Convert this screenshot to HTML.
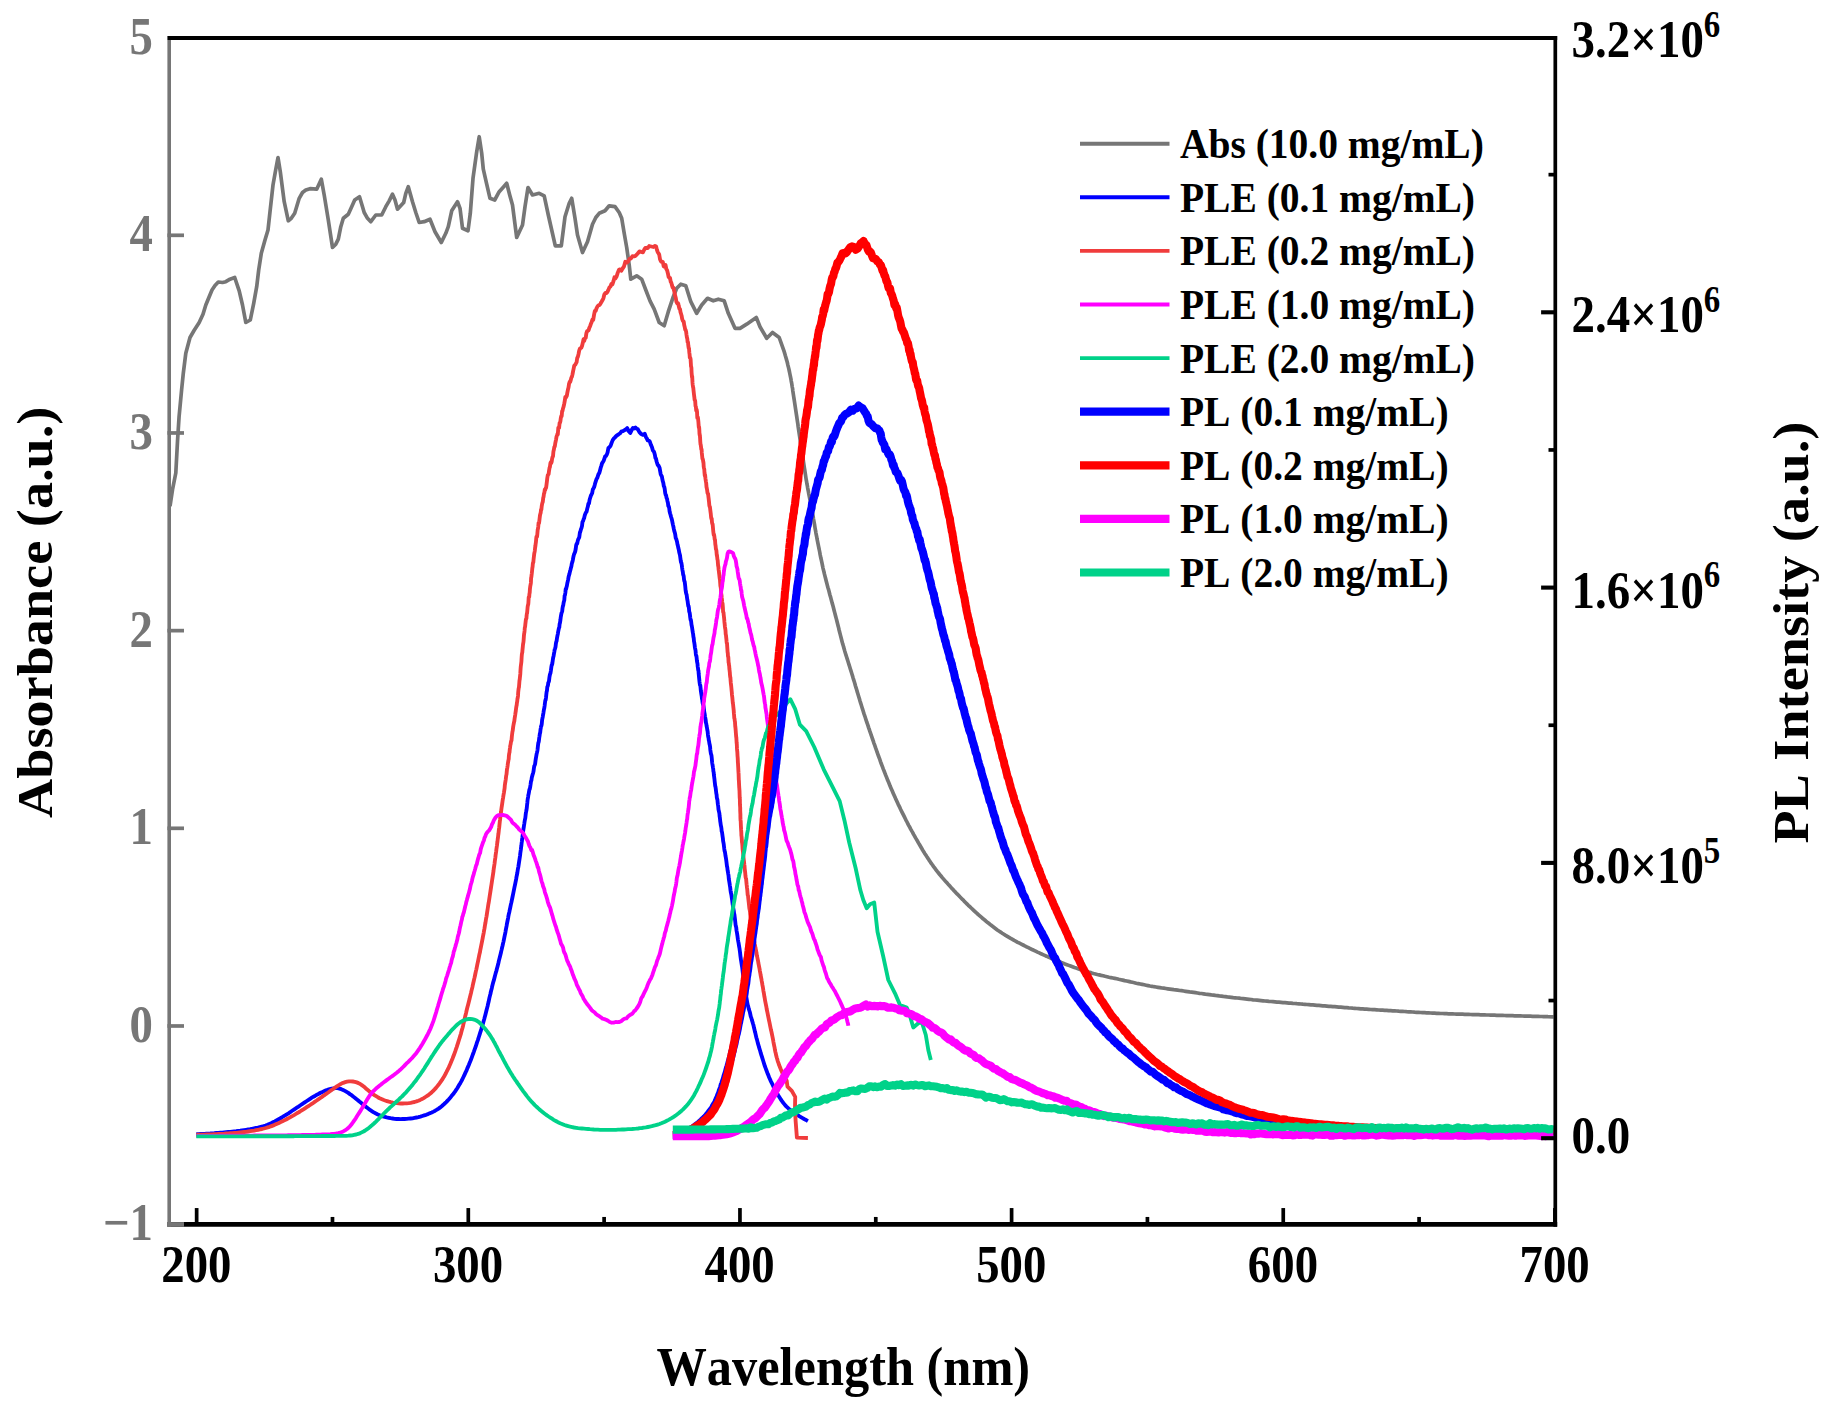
<!DOCTYPE html>
<html lang="en"><head><meta charset="utf-8"><title>Absorbance and PL spectra</title>
<style>html,body{margin:0;padding:0;background:#fff}svg{display:block}text{font-family:"Liberation Serif",serif;font-weight:bold;font-kerning:none}</style></head><body>
<svg width="1836" height="1413" viewBox="0 0 1836 1413">
<rect width="1836" height="1413" fill="#fff"/>
<g fill="none" stroke-linejoin="round" stroke-linecap="butt">
<polyline points="170.0,506.2 172.5,489.6 175.8,473.0 177.5,441.4 179.1,416.4 181.6,389.8 183.3,373.2 185.8,353.2 190.0,337.5 194.2,330.3 199.2,322.5 203.0,314.2 205.8,305.0 209.2,296.7 212.0,290.0 215.0,285.5 218.3,282.0 222.5,282.5 225.8,281.7 230.0,279.2 234.7,277.5 239.2,290.8 242.5,305.0 245.8,322.5 250.3,320.0 253.7,303.3 256.7,286.7 258.7,270.0 261.3,253.3 265.0,240.0 268.0,230.0 270.0,211.7 273.0,185.0 275.8,169.2 278.0,157.5 280.3,171.7 284.2,201.7 288.3,220.8 291.3,218.3 294.7,213.3 299.2,198.3 302.5,192.5 305.8,190.0 310.0,188.7 316.7,189.2 321.3,179.2 324.2,195.0 328.3,220.0 332.5,247.5 335.8,244.2 338.3,239.2 340.8,226.7 343.3,218.3 348.3,214.2 351.7,206.7 354.7,200.0 359.5,196.7 362.5,206.7 364.2,212.5 367.5,218.3 370.8,221.7 375.8,215.0 381.7,215.0 385.8,206.7 389.2,200.8 392.5,194.2 395.0,200.0 397.5,209.2 403.7,202.5 405.8,193.3 408.3,186.7 412.5,201.7 415.8,212.5 419.2,222.5 424.2,221.7 430.0,219.2 435.0,231.7 441.3,242.5 445.8,233.3 448.3,226.7 451.7,210.8 457.5,201.7 460.0,208.3 462.5,228.3 468.0,230.8 470.3,213.3 473.0,178.3 476.7,151.7 479.2,136.7 481.7,153.3 483.3,169.2 486.7,184.2 490.0,198.3 494.7,200.0 499.2,191.7 503.7,186.7 506.7,183.3 509.7,195.0 512.5,205.0 516.7,237.5 522.5,225.0 525.0,206.7 528.0,187.5 532.5,195.0 539.2,193.3 544.2,195.8 548.3,215.0 551.7,230.0 555.3,245.8 561.3,245.8 565.0,216.7 569.2,203.3 571.7,198.3 575.0,218.3 577.5,235.0 582.5,252.5 587.5,241.7 592.5,224.2 595.8,217.5 599.2,213.3 605.0,210.8 609.2,205.8 615.0,206.7 619.2,212.5 621.7,218.3 624.2,233.3 626.7,247.5 629.2,265.0 630.8,279.2 636.7,275.8 641.7,279.2 645.8,290.0 650.0,300.8 654.2,309.2 659.2,322.5 664.2,325.8 668.3,311.7 673.3,296.7 676.7,288.3 680.8,284.2 685.8,285.8 690.8,301.7 696.7,313.3 701.7,305.0 707.5,298.3 713.3,300.8 718.3,299.2 724.2,300.8 728.3,313.3 735.0,328.3 740.0,328.3 746.7,324.2 756.3,317.5 760.0,326.7 766.7,338.3 772.5,332.5 779.2,337.5 784.2,351.7 784.8,353.6 785.3,355.5 785.9,357.5 786.4,359.4 787.0,361.3 787.5,363.3 787.9,365.2 788.4,367.1 788.9,369.1 789.3,371.0 789.7,373.0 790.1,375.0 790.5,376.9 790.9,378.9 791.2,380.8 791.6,382.8 791.9,384.8 792.2,386.8 792.6,388.7 792.8,390.7 793.1,392.7 793.4,394.7 793.7,396.7 794.0,398.6 794.3,400.6 794.6,402.6 794.9,404.6 795.2,406.5 795.5,408.5 795.8,410.5 796.1,412.5 796.4,414.5 796.7,416.4 797.0,418.4 797.3,420.4 797.6,422.4 797.9,424.3 798.1,426.3 798.4,428.3 798.7,430.3 799.0,432.3 799.3,434.2 799.6,436.2 799.9,438.2 800.2,440.2 800.5,442.1 800.8,444.1 801.1,446.1 801.4,448.1 801.7,450.1 802.0,452.0 802.3,454.0 802.6,456.0 802.9,458.0 803.2,459.9 803.5,461.9 803.8,463.9 804.1,465.9 804.4,467.9 804.7,469.8 805.0,471.8 805.3,473.8 805.6,475.8 805.9,477.7 806.2,479.7 806.6,481.7 806.9,483.7 807.3,485.6 807.6,487.6 808.0,489.6 808.4,491.5 808.7,493.5 809.1,495.5 809.5,497.4 809.9,499.4 810.3,501.3 810.6,503.3 811.0,505.3 811.4,507.2 811.8,509.2 812.1,511.2 812.5,513.1 812.9,515.1 813.2,517.1 813.5,519.0 813.9,521.0 814.2,523.0 814.6,524.9 814.9,526.9 815.2,528.9 815.6,530.9 815.9,532.8 816.3,534.8 816.7,536.8 817.0,538.7 817.4,540.7 817.8,542.6 818.2,544.6 818.6,546.6 819.0,548.5 819.4,550.5 819.8,552.5 820.1,554.4 820.5,556.4 820.9,558.3 821.4,560.3 821.8,562.2 822.2,564.2 822.6,566.2 823.0,568.1 823.5,570.1 824.0,572.0 824.4,573.9 824.9,575.9 825.4,577.8 825.9,579.8 826.4,581.7 826.9,583.6 827.4,585.6 827.9,587.5 828.5,589.4 829.0,591.3 829.5,593.3 830.0,595.2 830.6,597.1 831.1,599.1 831.6,601.0 832.1,602.9 832.7,604.9 833.2,606.8 833.7,608.7 834.2,610.7 834.7,612.6 835.2,614.5 835.7,616.5 836.2,618.4 836.7,620.3 837.2,622.3 837.7,624.2 838.2,626.2 838.7,628.1 839.1,630.0 839.6,632.0 840.1,633.9 840.6,635.9 841.1,637.8 841.6,639.7 842.1,641.7 842.6,643.6 843.2,645.5 843.7,647.4 844.3,649.4 844.8,651.3 845.4,653.2 846.0,655.1 846.6,657.0 847.2,658.9 847.8,660.8 848.4,662.7 849.0,664.6 849.6,666.5 850.2,668.5 850.8,670.4 851.4,672.3 852.0,674.2 852.6,676.1 853.1,678.0 853.7,679.9 854.3,681.8 854.9,683.8 855.4,685.7 856.0,687.6 856.6,689.5 857.1,691.4 857.7,693.3 858.3,695.3 858.9,697.2 859.5,699.1 860.0,701.0 860.6,702.9 861.2,704.8 861.8,706.7 862.4,708.6 863.0,710.5 863.6,712.5 864.2,714.4 864.9,716.3 865.5,718.2 866.1,720.1 866.7,722.0 867.4,723.9 868.0,725.7 868.6,727.6 869.3,729.5 869.9,731.4 870.6,733.3 871.2,735.2 871.9,737.1 872.5,739.0 873.2,740.9 873.8,742.8 874.5,744.7 875.2,746.6 875.8,748.4 876.5,750.3 877.1,752.2 877.8,754.1 878.5,756.0 879.2,757.9 879.9,759.7 880.5,761.6 881.2,763.5 881.9,765.4 882.6,767.2 883.3,769.1 884.1,771.0 884.8,772.8 885.5,774.7 886.3,776.6 887.0,778.4 887.7,780.3 888.5,782.1 889.3,784.0 890.0,785.8 890.8,787.7 891.6,789.5 892.4,791.3 893.2,793.2 894.0,795.0 894.8,796.8 895.6,798.6 896.5,800.5 897.3,802.3 898.1,804.1 899.0,805.9 899.9,807.7 900.7,809.5 901.6,811.3 902.5,813.1 903.4,814.9 904.3,816.7 905.2,818.5 906.1,820.3 907.0,822.0 907.9,823.8 908.8,825.6 909.8,827.3 910.7,829.1 911.7,830.9 912.7,832.6 913.6,834.4 914.6,836.1 915.6,837.9 916.6,839.6 917.6,841.3 918.6,843.1 919.6,844.8 920.6,846.5 921.6,848.2 922.6,850.0 923.7,851.7 924.7,853.4 925.8,855.1 926.9,856.8 928.0,858.4 929.1,860.1 930.2,861.7 931.3,863.4 932.5,865.0 933.6,866.6 934.8,868.2 936.0,869.8 937.2,871.4 938.5,873.0 939.7,874.5 941.0,876.0 942.3,877.6 943.6,879.1 944.9,880.6 946.2,882.1 947.6,883.6 948.9,885.1 950.3,886.6 951.6,888.1 953.0,889.5 954.3,891.0 955.7,892.4 957.1,893.9 958.5,895.3 959.9,896.8 961.3,898.2 962.7,899.6 964.1,901.1 965.5,902.5 966.9,903.9 968.3,905.3 969.8,906.7 971.2,908.0 972.7,909.4 974.2,910.8 975.6,912.1 977.1,913.5 978.6,914.8 980.1,916.1 981.6,917.4 983.1,918.8 984.7,920.0 986.2,921.3 987.7,922.6 989.3,923.8 990.9,925.1 992.5,926.3 994.1,927.5 995.7,928.7 997.3,929.9 998.9,931.0 1000.6,932.1 1002.2,933.2 1003.9,934.3 1005.6,935.4 1007.3,936.4 1009.0,937.4 1010.7,938.4 1012.5,939.4 1014.2,940.4 1016.0,941.3 1017.7,942.3 1019.5,943.2 1021.3,944.1 1023.1,945.0 1024.8,945.9 1026.6,946.8 1028.4,947.7 1030.2,948.6 1032.0,949.5 1033.8,950.3 1035.6,951.2 1037.5,952.1 1039.3,952.9 1041.1,953.8 1042.9,954.6 1044.7,955.4 1046.5,956.2 1048.4,957.1 1050.2,957.9 1052.0,958.7 1053.9,959.4 1055.7,960.2 1057.6,961.0 1059.4,961.7 1061.3,962.5 1063.1,963.2 1065.0,964.0 1066.9,964.7 1068.7,965.4 1070.6,966.1 1072.5,966.8 1074.4,967.5 1076.3,968.1 1078.1,968.8 1080.0,969.4 1081.9,970.1 1083.8,970.7 1085.7,971.3 1087.7,971.8 1089.6,972.4 1091.5,972.9 1093.4,973.5 1095.4,974.0 1097.3,974.5 1099.2,974.9 1101.2,975.4 1103.1,975.8 1105.1,976.3 1107.0,976.7 1109.0,977.2 1110.9,977.6 1112.9,978.0 1114.8,978.4 1116.8,978.8 1118.8,979.3 1120.7,979.7 1122.7,980.1 1124.6,980.6 1126.6,981.0 1128.5,981.4 1130.5,981.9 1132.4,982.3 1134.4,982.7 1136.3,983.2 1138.3,983.6 1140.3,984.0 1142.2,984.4 1144.2,984.8 1146.1,985.2 1148.1,985.6 1150.0,986.0 1152.0,986.3 1154.0,986.7 1156.0,987.0 1157.9,987.3 1159.9,987.6 1161.9,988.0 1163.8,988.2 1165.8,988.5 1167.8,988.8 1169.8,989.1 1171.8,989.4 1173.8,989.7 1175.7,989.9 1177.7,990.2 1179.7,990.5 1181.7,990.7 1183.7,991.0 1185.6,991.3 1187.6,991.6 1189.6,991.9 1191.6,992.1 1193.6,992.4 1195.5,992.7 1197.5,993.0 1199.5,993.3 1201.5,993.5 1203.5,993.8 1205.4,994.1 1207.4,994.3 1209.4,994.6 1211.4,994.9 1213.4,995.1 1215.4,995.4 1217.3,995.6 1219.3,995.9 1221.3,996.1 1223.3,996.4 1225.3,996.6 1227.3,996.9 1229.3,997.1 1231.2,997.3 1233.2,997.6 1235.2,997.8 1237.2,998.0 1239.2,998.2 1241.2,998.5 1243.2,998.7 1245.2,998.9 1247.1,999.1 1249.1,999.3 1251.1,999.5 1253.1,999.8 1255.1,1000.0 1257.1,1000.2 1259.1,1000.4 1261.1,1000.6 1263.1,1000.8 1265.0,1001.0 1267.0,1001.2 1269.0,1001.4 1271.0,1001.5 1273.0,1001.7 1275.0,1001.9 1277.0,1002.1 1279.0,1002.2 1281.0,1002.4 1283.0,1002.6 1285.0,1002.7 1287.0,1002.9 1289.0,1003.1 1290.9,1003.2 1292.9,1003.4 1294.9,1003.5 1296.9,1003.7 1298.9,1003.8 1300.9,1004.0 1302.9,1004.2 1304.9,1004.3 1306.9,1004.5 1308.9,1004.6 1310.9,1004.8 1312.9,1004.9 1314.9,1005.1 1316.9,1005.3 1318.9,1005.4 1320.9,1005.6 1322.8,1005.8 1324.8,1005.9 1326.8,1006.1 1328.8,1006.3 1330.8,1006.4 1332.8,1006.6 1334.8,1006.7 1336.8,1006.9 1338.8,1007.1 1340.8,1007.2 1342.8,1007.4 1344.8,1007.6 1346.8,1007.7 1348.8,1007.9 1350.8,1008.0 1352.7,1008.2 1354.7,1008.3 1356.7,1008.5 1358.7,1008.6 1360.7,1008.8 1362.7,1008.9 1364.7,1009.1 1366.7,1009.2 1368.7,1009.3 1370.7,1009.5 1372.7,1009.6 1374.7,1009.7 1376.7,1009.8 1378.7,1010.0 1380.7,1010.1 1382.7,1010.2 1384.7,1010.3 1386.7,1010.4 1388.7,1010.6 1390.7,1010.7 1392.7,1010.8 1394.7,1010.9 1396.7,1011.0 1398.7,1011.2 1400.6,1011.3 1402.6,1011.4 1404.6,1011.5 1406.6,1011.7 1408.6,1011.8 1410.6,1011.9 1412.6,1012.0 1414.6,1012.2 1416.6,1012.3 1418.6,1012.4 1420.6,1012.5 1422.6,1012.6 1424.6,1012.7 1426.6,1012.8 1428.6,1012.9 1430.6,1013.0 1432.6,1013.1 1434.6,1013.2 1436.6,1013.3 1438.6,1013.4 1440.6,1013.5 1442.6,1013.5 1444.6,1013.6 1446.6,1013.7 1448.6,1013.8 1450.6,1013.8 1452.6,1013.9 1454.6,1014.0 1456.6,1014.1 1458.6,1014.1 1460.6,1014.2 1462.6,1014.2 1464.6,1014.3 1466.6,1014.4 1468.6,1014.4 1470.6,1014.5 1472.6,1014.6 1474.6,1014.6 1476.6,1014.7 1478.6,1014.7 1480.6,1014.8 1482.6,1014.8 1484.6,1014.9 1486.6,1015.0 1488.6,1015.0 1490.6,1015.1 1492.6,1015.1 1494.6,1015.2 1496.6,1015.3 1498.6,1015.3 1500.6,1015.4 1502.6,1015.4 1504.6,1015.5 1506.6,1015.6 1508.6,1015.6 1510.6,1015.7 1512.6,1015.7 1514.6,1015.8 1516.5,1015.8 1518.5,1015.9 1520.5,1015.9 1522.5,1016.0 1524.5,1016.1 1526.5,1016.1 1528.5,1016.2 1530.5,1016.2 1532.5,1016.3 1534.4,1016.3 1536.4,1016.4 1538.2,1016.4 1540.1,1016.5 1541.9,1016.5 1543.5,1016.6 1545.1,1016.6 1546.6,1016.6 1547.9,1016.7 1552.5,1016.8 1553.5,1016.8" stroke="#767676" stroke-width="3.7"/>
<polyline points="196.3,1134.2 198.3,1134.1 200.6,1134.0 202.4,1133.9 204.3,1133.8 206.3,1133.7 208.3,1133.6 210.3,1133.5 212.3,1133.3 214.3,1133.2 216.3,1133.0 218.3,1132.9 220.3,1132.7 222.3,1132.6 224.2,1132.4 226.2,1132.2 228.2,1132.0 230.2,1131.8 232.2,1131.6 234.2,1131.4 236.2,1131.2 238.2,1130.9 240.2,1130.7 242.1,1130.4 244.1,1130.1 246.1,1129.8 248.1,1129.5 250.1,1129.2 252.0,1128.8 254.0,1128.4 256.0,1128.0 257.9,1127.6 259.9,1127.1 261.8,1126.6 263.7,1126.1 265.6,1125.5 267.4,1124.8 269.3,1124.0 271.1,1123.2 272.9,1122.3 274.7,1121.4 276.4,1120.5 278.2,1119.5 280.0,1118.5 281.7,1117.5 283.4,1116.4 285.1,1115.4 286.8,1114.3 288.5,1113.3 290.2,1112.2 291.8,1111.0 293.5,1109.9 295.1,1108.8 296.8,1107.7 298.5,1106.6 300.1,1105.5 301.8,1104.3 303.5,1103.2 305.1,1102.1 306.8,1101.0 308.5,1099.9 310.1,1098.8 311.8,1097.7 313.5,1096.7 315.3,1095.7 317.0,1094.7 318.8,1093.8 320.6,1092.8 322.4,1092.0 324.2,1091.1 326.0,1090.4 327.9,1089.7 329.8,1089.1 331.7,1088.6 333.7,1088.3 335.6,1088.1 337.5,1088.2 339.4,1088.6 341.3,1089.2 343.1,1090.0 344.9,1090.9 346.6,1091.9 348.3,1092.9 349.9,1094.1 351.6,1095.2 353.2,1096.5 354.8,1097.7 356.3,1098.9 357.9,1100.2 359.4,1101.5 361.0,1102.8 362.5,1104.1 364.1,1105.3 365.6,1106.6 367.2,1107.8 368.8,1109.0 370.4,1110.2 372.1,1111.3 373.8,1112.4 375.5,1113.3 377.3,1114.2 379.1,1115.0 381.0,1115.7 382.9,1116.4 384.8,1116.9 386.7,1117.4 388.7,1117.8 390.6,1118.2 392.6,1118.5 394.6,1118.8 396.6,1119.0 398.6,1119.0 400.6,1119.1 402.6,1119.0 404.6,1119.0 406.6,1118.9 408.6,1118.7 410.6,1118.5 412.5,1118.3 414.5,1117.9 416.5,1117.5 418.4,1117.1 420.4,1116.6 422.3,1116.0 424.2,1115.4 426.1,1114.8 428.0,1114.1 429.8,1113.3 431.7,1112.5 433.5,1111.6 435.2,1110.7 436.9,1109.7 438.6,1108.6 440.2,1107.4 441.7,1106.2 443.3,1104.8 444.7,1103.5 446.2,1102.1 447.6,1100.6 448.9,1099.2 450.2,1097.7 451.5,1096.1 452.8,1094.6 454.0,1093.0 455.2,1091.3 456.3,1089.7 457.4,1088.0 458.4,1086.3 459.4,1084.6 460.4,1082.9 461.4,1081.1 462.3,1079.3 463.2,1077.5 464.1,1075.7 464.9,1073.9 465.7,1072.1 466.6,1070.3 467.3,1068.4 468.1,1066.6 468.9,1064.7 469.6,1062.9 470.4,1061.0 471.1,1059.2 471.8,1057.3 472.5,1055.4 473.2,1053.5 473.9,1051.6 474.5,1049.8 475.2,1047.9 475.9,1046.0 476.5,1044.1 477.1,1042.2 477.8,1040.3 478.4,1038.4 479.0,1036.5 479.6,1034.6 480.2,1032.7 480.8,1030.8 481.4,1028.8 481.9,1026.9 482.5,1025.0 483.1,1023.1 483.6,1021.2 484.2,1019.2 484.7,1017.3 485.2,1015.4 485.7,1013.5 486.2,1011.5 486.7,1009.6 487.2,1007.6 487.7,1005.7 488.1,1003.7 488.6,1001.8 489.0,999.8 489.4,997.9 489.9,995.9 490.4,994.0 490.8,992.0 491.3,990.1 491.8,988.2 492.2,986.2 492.7,984.3 493.2,982.3 493.8,980.4 494.3,978.5 494.8,976.6 495.3,974.6 495.8,972.7 496.4,970.8 496.9,968.8 497.4,966.9 497.9,965.0 498.4,963.0 498.8,961.1 499.3,959.1 499.8,957.2 500.3,955.2 500.8,953.3 501.2,951.4 501.7,949.4 502.1,947.5 502.6,945.5 503.0,943.6 503.5,941.6 503.9,939.7 504.3,937.7 504.7,935.7 505.1,933.8 505.5,931.8 505.8,929.9 506.2,927.9 506.6,925.9 506.9,924.0 507.3,922.0 507.7,920.0 508.1,918.1 508.4,916.1 508.8,914.1 509.3,912.2 509.7,910.2 510.1,908.3 510.5,906.3 510.9,904.4 511.4,902.4 511.8,900.4 512.2,898.5 512.6,896.5 513.0,894.6 513.4,892.6 513.8,890.7 514.2,888.7 514.6,886.7 515.0,884.8 515.4,882.8 515.8,880.9 516.2,878.9 516.5,876.9 516.9,875.0 517.3,873.0 517.6,871.0 517.9,869.0 518.3,867.1 518.6,865.1 518.9,863.1 519.2,861.1 519.5,859.2 519.8,857.2 520.1,855.2 520.3,853.2 520.6,851.3 520.9,849.3 521.1,847.3 521.4,845.4 521.6,843.3 521.9,841.3 522.1,839.3 522.4,837.2 522.6,835.5 522.9,833.6 523.1,831.4 523.4,829.4 523.7,827.7 524.0,825.5 524.3,823.7 524.6,821.6 524.9,819.7 525.3,818.1 525.6,815.4 525.9,812.7 526.2,811.4 526.5,809.9 526.8,807.8 527.0,805.6 527.3,803.0 527.5,800.7 527.8,798.6 528.1,797.1 528.4,794.8 528.7,793.7 529.0,791.9 529.4,789.5 529.8,789.0 530.2,786.8 530.6,784.3 531.0,781.3 531.4,780.4 531.8,777.5 532.2,776.1 532.6,774.6 533.1,773.0 533.5,771.4 533.9,768.3 534.3,765.9 534.7,765.2 535.1,764.0 535.5,760.8 535.9,758.1 536.2,756.5 536.6,754.1 536.9,752.9 537.3,751.1 537.6,749.2 537.9,746.2 538.3,743.0 538.6,742.2 538.9,740.9 539.2,738.0 539.5,736.2 539.8,733.9 540.2,732.5 540.5,729.6 540.8,728.0 541.1,725.9 541.4,725.9 541.8,723.6 542.1,720.2 542.4,718.5 542.7,717.1 543.0,715.2 543.4,713.1 543.7,711.0 544.0,709.2 544.3,708.1 544.7,705.2 545.0,702.6 545.3,700.4 545.6,700.1 546.0,697.7 546.3,694.6 546.6,691.9 547.0,690.4 547.3,686.8 547.6,686.4 548.0,684.9 548.3,682.6 548.7,682.1 549.0,681.0 549.4,677.5 549.8,675.2 550.1,674.0 550.5,673.0 550.9,670.5 551.3,667.4 551.7,665.0 552.1,664.5 552.4,663.0 552.8,660.0 553.2,657.4 553.6,655.9 554.0,653.5 554.4,651.3 554.7,649.4 555.1,648.6 555.5,647.1 555.9,643.5 556.3,641.7 556.6,641.1 557.0,638.1 557.4,635.9 557.8,634.1 558.1,632.1 558.5,630.1 558.9,628.1 559.3,627.4 559.6,624.1 560.0,622.8 560.4,620.1 560.7,617.5 561.1,615.1 561.5,613.1 561.8,612.4 562.2,611.4 562.5,608.3 562.9,606.0 563.2,605.6 563.6,602.8 563.9,601.5 564.3,600.2 564.6,595.8 565.0,595.0 565.4,592.5 565.7,589.0 566.1,589.0 566.5,587.2 566.9,585.8 567.3,583.2 567.8,581.1 568.2,579.4 568.6,576.8 569.1,575.0 569.5,573.6 570.0,571.4 570.4,570.0 570.9,567.9 571.4,566.2 571.8,563.6 572.3,562.2 572.8,560.2 573.3,557.3 573.7,555.5 574.2,553.9 574.7,552.9 575.2,551.5 575.7,549.0 576.2,545.1 576.7,543.7 577.2,543.7 577.7,541.0 578.2,539.4 578.7,538.4 579.3,537.1 579.8,533.2 580.3,531.7 580.9,529.4 581.4,528.3 582.0,526.0 582.5,521.8 583.1,521.0 583.6,519.3 584.2,517.9 584.8,515.2 585.4,513.6 586.0,512.4 586.6,511.6 587.2,508.8 587.8,506.8 588.4,503.7 589.0,503.5 589.6,499.8 590.3,497.5 590.9,495.6 591.5,494.6 592.2,493.0 592.8,489.5 593.4,488.5 594.1,487.2 594.7,485.1 595.3,482.8 596.0,480.6 596.6,478.9 597.3,477.9 598.0,475.7 598.6,473.8 599.3,473.1 600.0,470.4 600.7,467.7 601.4,465.6 602.2,462.9 602.9,462.2 603.7,460.7 604.4,458.6 605.2,456.2 606.0,455.9 606.8,454.6 607.6,452.4 608.4,448.0 609.2,447.4 610.0,446.6 610.8,445.2 611.7,442.6 612.7,440.1 613.7,438.7 615.0,437.4 616.6,435.6 618.4,434.5 620.1,433.3 621.5,431.4 622.9,431.2 624.2,430.4 625.7,429.5 627.2,428.0 628.8,431.3 630.3,433.0 631.6,430.1 632.9,427.9 634.1,428.5 635.4,427.5 636.6,428.6 637.9,429.3 639.4,432.1 641.3,434.1 643.1,434.9 644.7,433.7 645.9,436.9 646.8,438.4 647.7,440.4 648.7,440.6 649.8,441.5 650.9,444.8 652.0,447.3 652.9,450.5 653.7,451.3 654.3,452.6 654.9,455.0 655.4,457.9 656.0,458.6 656.6,461.5 657.2,463.3 657.8,465.1 658.4,465.3 659.0,466.7 659.6,467.9 660.2,471.3 660.7,474.2 661.3,475.6 661.8,476.2 662.3,478.8 662.8,481.3 663.3,482.9 663.8,486.1 664.3,487.0 664.7,488.9 665.2,493.1 665.7,494.9 666.1,495.2 666.5,497.8 667.0,498.7 667.4,500.9 667.9,502.8 668.3,505.9 668.8,506.5 669.2,508.1 669.6,511.6 670.1,513.5 670.5,514.7 671.0,516.6 671.5,518.3 671.9,519.6 672.4,522.2 672.9,524.6 673.3,526.2 673.8,528.9 674.3,531.1 674.8,532.6 675.2,534.3 675.7,538.0 676.2,538.9 676.6,540.2 677.1,542.1 677.5,544.5 678.0,546.3 678.4,548.3 678.8,549.8 679.2,552.3 679.6,553.7 680.0,555.2 680.4,558.2 680.7,560.5 681.1,562.5 681.4,562.8 681.8,565.2 682.1,567.7 682.4,569.8 682.8,571.8 683.1,574.4 683.4,575.3 683.7,576.1 684.0,579.4 684.3,580.9 684.7,581.8 685.0,584.2 685.3,586.9 685.6,590.3 685.9,592.2 686.3,593.9 686.6,594.6 686.9,596.7 687.3,599.7 687.6,601.1 687.9,603.5 688.3,606.3 688.6,606.1 688.9,607.8 689.2,611.7 689.6,612.5 689.9,614.4 690.2,617.2 690.6,620.1 690.9,619.9 691.2,622.1 691.5,624.7 691.8,626.0 692.1,627.8 692.5,630.5 692.8,632.4 693.1,634.0 693.4,636.7 693.7,638.0 694.0,641.3 694.3,642.7 694.6,644.8 694.9,647.5 695.2,649.1 695.5,650.2 695.8,653.7 696.1,655.8 696.4,655.8 696.6,657.4 696.9,660.6 697.2,662.5 697.5,663.7 697.7,666.5 698.0,668.3 698.2,670.1 698.5,670.8 698.7,673.8 699.0,676.7 699.2,678.7 699.5,681.7 699.8,684.0 700.0,685.1 700.3,685.4 700.6,688.1 700.8,690.4 701.1,692.4 701.4,694.4 701.7,696.2 702.0,698.8 702.3,700.2 702.6,702.7 703.0,704.4 703.3,705.1 703.6,706.6 704.0,709.8 704.3,712.3 704.6,713.6 705.0,716.6 705.3,717.9 705.7,720.1 706.0,723.0 706.3,723.9 706.6,726.0 707.0,727.9 707.3,730.0 707.6,731.2 707.9,734.4 708.2,736.7 708.5,737.8 708.8,740.2 709.1,741.4 709.4,743.6 709.7,744.6 710.1,746.8 710.3,749.7 710.6,751.8 710.9,753.7 711.2,754.4 711.5,755.7 711.8,758.5 712.1,762.2 712.4,764.1 712.6,765.2 712.9,767.3 713.2,768.9 713.4,771.3 713.7,772.5 713.9,775.1 714.2,777.3 714.5,779.6 714.7,781.6 715.0,784.3 715.2,785.9 715.5,786.9 715.8,789.0 716.0,790.8 716.3,793.4 716.6,794.7 716.8,797.4 717.1,798.8 717.4,799.6 717.7,802.7 717.9,804.5 718.2,806.3 718.5,809.6 718.8,810.8 719.1,812.2 719.4,813.5 719.6,816.1 719.9,817.9 720.2,821.2 720.5,822.9 720.8,825.3 721.1,826.4 721.4,828.2 721.7,831.5 722.0,832.1 722.3,834.3 722.6,836.4 722.9,838.5 723.1,840.8 723.4,842.3 723.7,844.0 724.0,846.6 724.3,849.1 724.6,851.0 724.9,851.8 725.2,853.6 725.5,855.9 725.8,857.4 726.1,859.2 726.4,861.6 726.7,864.1 727.0,866.5 727.3,867.6 727.6,870.4 727.9,871.9 728.2,873.8 728.5,875.4 728.8,878.9 729.1,880.6 729.4,882.3 729.6,883.6 729.9,885.7 730.2,887.5 730.5,890.3 730.8,892.3 731.1,893.6 731.4,895.1 731.7,897.3 732.0,899.2 732.3,901.2 732.6,903.9 732.9,905.7 733.2,908.0 733.5,909.4 733.8,910.9 734.1,913.5 734.4,914.6 734.7,917.1 735.0,919.4 735.3,922.1 735.6,925.1 735.9,926.4 736.2,927.3 736.5,930.3 736.8,932.0 737.1,933.7 737.4,935.6 737.7,937.9 738.0,940.0 738.3,941.7 738.6,943.1 738.9,945.1 739.2,946.9 739.5,948.5 739.8,950.8 740.1,953.1 740.4,955.7 740.6,957.2 740.9,959.4 741.2,961.3 741.5,963.3 741.8,965.1 742.1,967.0 742.4,969.0 742.6,970.9 742.9,973.6 743.2,975.5 743.4,977.4 743.7,979.3 743.9,981.4 744.2,982.6 744.5,985.6 744.7,986.6 745.0,988.5 745.3,990.4 745.6,992.7 745.9,995.0 746.2,996.8 746.5,998.0 746.9,1000.5 747.3,1002.8 747.7,1004.9 748.2,1006.4 748.7,1008.6 749.2,1010.2 749.8,1012.0 750.3,1014.2 750.8,1016.6 751.4,1018.1 751.9,1020.1 752.5,1021.9 753.0,1023.8 753.5,1025.4 754.0,1027.8 754.5,1029.7 754.9,1031.6 755.4,1033.3 755.9,1035.6 756.4,1037.7 756.9,1039.4 757.4,1041.4 757.9,1043.4 758.5,1045.3 759.0,1047.2 759.6,1049.1 760.2,1051.0 760.7,1052.9 761.3,1054.8 761.9,1056.7 762.5,1058.6 763.1,1060.5 763.7,1062.5 764.3,1064.4 764.9,1066.3 765.6,1068.1 766.3,1070.0 767.0,1071.9 767.7,1073.8 768.5,1075.6 769.2,1077.5 770.0,1079.3 770.8,1081.1 771.7,1082.9 772.6,1084.7 773.4,1086.5 774.4,1088.3 775.3,1090.1 776.3,1091.8 777.2,1093.6 778.2,1095.3 779.3,1097.0 780.4,1098.7 781.5,1100.4 782.6,1102.0 783.9,1103.6 785.1,1105.1 786.5,1106.6 787.9,1107.9 789.4,1109.3 790.9,1110.5 792.5,1111.7 794.2,1112.8 795.9,1113.9 797.6,1115.0 799.2,1116.1 800.9,1117.1 802.6,1118.1 804.1,1119.0 805.5,1119.7 807.9,1121.1 807.9,1121.1" stroke="#0000ff" stroke-width="3.85"/>
<polyline points="196.3,1134.7 198.3,1134.7 200.7,1134.7 202.4,1134.6 204.4,1134.6 206.4,1134.5 208.3,1134.5 210.4,1134.4 212.4,1134.3 214.4,1134.2 216.4,1134.1 218.4,1134.0 220.3,1133.9 222.3,1133.8 224.3,1133.7 226.3,1133.5 228.3,1133.4 230.3,1133.2 232.3,1133.1 234.3,1132.9 236.3,1132.8 238.3,1132.6 240.2,1132.4 242.2,1132.2 244.2,1132.0 246.2,1131.8 248.2,1131.5 250.2,1131.2 252.2,1130.9 254.2,1130.6 256.1,1130.2 258.1,1129.8 260.0,1129.4 262.0,1129.0 263.9,1128.5 265.8,1128.0 267.7,1127.4 269.6,1126.8 271.5,1126.1 273.4,1125.4 275.2,1124.6 277.1,1123.8 278.9,1123.0 280.7,1122.1 282.5,1121.3 284.3,1120.4 286.1,1119.5 287.8,1118.5 289.6,1117.6 291.3,1116.6 293.1,1115.6 294.8,1114.6 296.5,1113.5 298.3,1112.5 300.0,1111.5 301.7,1110.4 303.4,1109.3 305.0,1108.3 306.7,1107.2 308.4,1106.1 310.1,1105.0 311.7,1103.9 313.4,1102.8 315.0,1101.6 316.7,1100.5 318.3,1099.4 320.0,1098.2 321.6,1097.1 323.2,1095.9 324.9,1094.8 326.5,1093.6 328.2,1092.5 329.8,1091.3 331.4,1090.1 333.1,1089.0 334.7,1087.8 336.4,1086.7 338.1,1085.6 339.8,1084.5 341.5,1083.6 343.3,1082.8 345.2,1082.2 347.1,1081.7 349.0,1081.4 351.0,1081.3 352.9,1081.5 354.8,1081.8 356.7,1082.4 358.5,1083.1 360.2,1084.0 361.8,1085.1 363.4,1086.3 365.0,1087.6 366.5,1089.0 368.1,1090.3 369.6,1091.6 371.2,1092.8 372.8,1094.0 374.4,1095.2 376.1,1096.2 377.8,1097.2 379.6,1098.2 381.4,1099.0 383.2,1099.8 385.1,1100.5 387.0,1101.1 388.9,1101.7 390.8,1102.2 392.8,1102.6 394.7,1102.9 396.7,1103.2 398.7,1103.4 400.7,1103.5 402.7,1103.5 404.7,1103.4 406.7,1103.3 408.7,1103.1 410.7,1102.8 412.6,1102.4 414.5,1102.0 416.4,1101.4 418.3,1100.7 420.2,1099.9 422.0,1099.0 423.7,1098.1 425.4,1097.0 427.1,1095.9 428.7,1094.8 430.3,1093.5 431.8,1092.2 433.2,1090.8 434.6,1089.4 436.0,1087.9 437.2,1086.4 438.5,1084.8 439.7,1083.2 440.8,1081.6 442.0,1079.9 443.0,1078.2 444.1,1076.5 445.0,1074.8 446.0,1073.0 446.9,1071.2 447.8,1069.4 448.7,1067.6 449.5,1065.8 450.3,1064.0 451.1,1062.1 451.8,1060.3 452.6,1058.4 453.3,1056.5 454.0,1054.7 454.7,1052.8 455.4,1050.9 456.0,1049.0 456.7,1047.1 457.3,1045.2 457.9,1043.3 458.5,1041.4 459.1,1039.5 459.7,1037.6 460.3,1035.7 460.9,1033.8 461.4,1031.8 461.9,1029.9 462.5,1028.0 463.0,1026.0 463.4,1024.1 463.9,1022.2 464.3,1020.2 464.8,1018.3 465.2,1016.3 465.7,1014.4 466.2,1012.4 466.6,1010.5 467.1,1008.5 467.6,1006.6 468.1,1004.7 468.6,1002.7 469.1,1000.8 469.6,998.8 470.0,996.9 470.5,995.0 471.0,993.0 471.4,991.1 471.9,989.1 472.4,987.2 472.8,985.2 473.2,983.3 473.7,981.3 474.1,979.4 474.6,977.4 475.0,975.5 475.4,973.5 475.8,971.6 476.3,969.6 476.7,967.6 477.1,965.7 477.5,963.7 477.9,961.8 478.3,959.8 478.7,957.9 479.1,955.9 479.5,953.9 480.0,952.0 480.3,950.0 480.7,948.1 481.1,946.1 481.5,944.1 481.9,942.2 482.3,940.2 482.7,938.2 483.0,936.3 483.4,934.3 483.8,932.3 484.1,930.4 484.5,928.4 484.8,926.4 485.1,924.5 485.5,922.5 485.8,920.5 486.1,918.5 486.5,916.6 486.8,914.6 487.1,912.6 487.4,910.6 487.7,908.7 488.0,906.7 488.3,904.7 488.7,902.7 489.0,900.8 489.3,898.8 489.6,896.8 489.9,894.8 490.2,892.9 490.5,890.9 490.8,888.9 491.1,886.9 491.4,885.0 491.7,883.0 492.0,881.0 492.3,879.0 492.6,877.1 492.9,875.1 493.2,873.1 493.5,871.1 493.7,869.1 494.0,867.1 494.3,865.2 494.6,863.2 494.8,861.2 495.1,859.2 495.4,857.2 495.6,855.3 495.9,853.3 496.2,851.3 496.4,849.3 496.7,847.3 497.0,845.3 497.2,843.4 497.5,841.4 497.7,839.4 498.0,837.4 498.2,835.4 498.5,833.4 498.7,831.5 498.9,829.5 499.2,827.5 499.4,825.5 499.6,823.5 499.8,821.5 500.1,819.5 500.3,817.5 500.5,815.5 500.8,813.5 501.1,811.6 501.3,809.8 501.6,807.6 501.9,805.6 502.2,803.6 502.5,801.5 502.8,799.3 503.1,797.8 503.4,795.8 503.7,794.0 504.0,792.3 504.3,790.2 504.6,788.3 504.8,785.6 505.1,783.4 505.4,781.6 505.7,779.8 505.9,778.1 506.2,775.6 506.5,774.4 506.7,772.3 507.0,769.2 507.3,767.8 507.6,765.8 507.8,764.0 508.1,762.1 508.4,760.4 508.7,759.1 508.9,755.7 509.2,753.4 509.5,752.5 509.8,749.2 510.0,748.1 510.3,745.6 510.6,744.4 510.9,742.2 511.2,741.0 511.5,740.6 511.8,737.0 512.1,734.4 512.4,731.9 512.7,730.7 513.1,727.4 513.4,725.5 513.7,723.9 514.0,722.3 514.3,721.2 514.6,718.7 514.9,716.8 515.2,715.0 515.5,712.8 515.8,710.9 516.1,708.2 516.4,706.4 516.7,705.0 517.0,702.3 517.2,701.7 517.5,698.4 517.7,698.1 518.0,695.9 518.2,692.4 518.4,690.4 518.7,688.1 518.9,687.6 519.1,685.5 519.3,682.8 519.5,680.3 519.7,679.6 519.9,677.5 520.1,675.7 520.3,673.9 520.4,671.6 520.6,668.6 520.8,666.2 521.0,664.8 521.2,663.3 521.4,661.6 521.6,657.8 521.8,655.1 521.9,654.3 522.1,652.9 522.3,652.4 522.5,649.7 522.8,646.9 523.0,644.6 523.2,643.4 523.4,642.4 523.6,640.6 523.9,636.2 524.1,634.0 524.4,632.4 524.6,630.4 524.8,627.7 525.1,626.7 525.3,624.6 525.6,622.0 525.8,620.2 526.1,618.7 526.4,618.7 526.6,615.7 526.9,613.4 527.1,613.2 527.4,609.7 527.6,607.3 527.9,605.3 528.2,604.4 528.4,602.8 528.7,597.4 528.9,596.8 529.2,596.9 529.4,594.1 529.7,592.6 529.9,589.3 530.2,586.8 530.4,585.4 530.6,584.7 530.9,582.7 531.1,577.9 531.4,576.8 531.6,574.8 531.8,573.4 532.1,570.6 532.3,568.4 532.6,566.6 532.8,564.0 533.0,562.7 533.3,562.6 533.5,560.4 533.8,557.4 534.0,555.7 534.3,553.3 534.6,551.9 534.8,550.7 535.1,547.9 535.4,545.9 535.6,544.3 535.9,542.3 536.2,538.8 536.5,536.6 536.8,536.3 537.1,536.7 537.4,533.3 537.7,529.6 538.0,528.7 538.3,526.2 538.6,522.6 539.0,523.1 539.3,521.2 539.6,518.5 540.0,515.2 540.3,514.0 540.7,512.6 541.0,509.7 541.4,509.5 541.7,506.4 542.1,504.0 542.5,502.5 542.8,501.7 543.2,498.0 543.6,496.6 544.0,493.5 544.4,492.6 544.8,489.4 545.2,489.9 545.6,488.4 546.1,487.7 546.5,484.7 546.9,481.5 547.3,478.0 547.8,475.0 548.2,474.6 548.6,474.2 549.0,471.1 549.5,468.0 549.9,467.0 550.4,463.3 550.8,462.3 551.2,463.3 551.7,461.7 552.1,458.8 552.6,456.8 553.0,456.4 553.4,451.6 553.9,449.5 554.3,447.0 554.8,446.6 555.2,443.7 555.6,441.7 556.1,439.3 556.5,436.7 557.0,435.4 557.4,434.0 557.8,434.4 558.3,427.9 558.7,427.6 559.1,427.8 559.6,423.0 560.0,422.7 560.4,421.3 560.8,418.1 561.2,416.2 561.7,416.1 562.1,411.2 562.5,410.9 563.0,408.4 563.4,407.4 563.9,405.2 564.3,403.4 564.8,400.7 565.3,396.9 565.8,397.7 566.3,396.7 566.8,395.8 567.3,392.9 567.9,389.8 568.5,387.5 569.0,384.1 569.6,381.9 570.2,382.0 570.8,379.9 571.4,377.5 571.9,376.8 572.5,374.4 573.1,371.1 573.6,368.8 574.2,365.9 574.8,365.0 575.4,364.6 576.0,363.2 576.6,362.3 577.2,358.1 577.9,356.6 578.5,354.2 579.2,350.6 579.9,348.6 580.6,348.3 581.3,347.8 582.1,345.7 582.8,342.8 583.5,339.3 584.2,341.0 585.0,338.3 585.7,337.9 586.4,333.1 587.1,331.1 587.9,330.8 588.6,330.2 589.3,327.9 590.1,326.2 590.9,323.8 591.6,322.2 592.4,319.6 593.2,319.9 594.0,315.1 594.8,311.0 595.7,310.9 596.5,308.4 597.4,306.7 598.4,305.3 599.4,305.2 600.4,303.8 601.4,302.1 602.4,300.3 603.4,298.3 604.4,294.3 605.4,293.0 606.3,293.1 607.3,292.1 608.4,289.9 609.4,287.4 610.4,286.6 611.4,283.9 612.4,284.4 613.4,281.4 614.5,277.3 615.5,278.3 616.6,276.5 617.7,272.9 618.9,269.9 620.1,269.4 621.3,270.8 622.6,268.5 623.9,266.7 625.3,261.8 626.7,262.5 628.0,261.7 629.5,258.8 630.9,258.6 632.4,256.2 634.0,256.3 635.6,255.8 637.5,253.7 639.4,251.4 641.2,251.9 642.9,252.3 644.3,249.5 645.4,248.0 646.5,247.8 647.7,248.1 649.2,246.0 651.3,246.5 653.4,247.0 655.0,245.9 656.1,246.5 657.0,250.1 657.8,252.2 658.5,253.3 659.2,254.5 660.0,259.2 660.9,261.3 661.8,262.1 662.8,261.9 663.7,266.5 664.6,266.6 665.5,265.0 666.3,269.0 667.1,270.3 667.9,273.4 668.6,276.8 669.3,277.7 670.0,277.8 670.7,281.7 671.3,282.6 672.0,285.4 672.7,287.6 673.3,287.6 673.9,289.9 674.6,292.9 675.2,295.9 675.8,298.0 676.4,301.7 677.0,303.1 677.6,303.7 678.2,303.5 678.8,306.3 679.4,308.8 680.0,309.0 680.5,312.1 681.1,314.0 681.6,315.7 682.1,318.6 682.7,320.5 683.2,321.4 683.7,321.4 684.2,325.1 684.7,327.0 685.2,329.6 685.6,329.9 686.1,331.5 686.5,334.7 686.9,337.4 687.3,338.8 687.6,342.1 688.0,342.3 688.3,345.4 688.7,348.1 689.0,348.1 689.3,352.4 689.6,354.5 689.8,357.5 690.1,357.9 690.3,357.8 690.6,359.2 690.8,362.7 691.0,366.1 691.2,366.8 691.4,367.8 691.6,372.6 691.8,375.0 692.0,377.3 692.2,376.3 692.3,378.3 692.5,382.4 692.7,384.7 692.9,386.0 693.1,387.3 693.3,387.9 693.5,390.1 693.8,392.9 694.0,394.6 694.3,396.9 694.6,399.9 694.9,400.2 695.2,401.1 695.5,406.0 695.9,406.8 696.2,410.7 696.6,409.5 697.0,411.3 697.3,417.9 697.6,417.3 697.9,417.4 698.2,420.0 698.4,421.9 698.7,426.2 698.9,427.7 699.1,427.0 699.3,429.5 699.5,433.8 699.7,435.3 699.9,435.1 700.1,438.2 700.3,441.8 700.5,444.1 700.8,445.1 701.0,446.8 701.3,449.5 701.6,449.3 701.8,452.7 702.1,455.6 702.4,458.6 702.7,458.9 702.9,459.4 703.2,461.5 703.5,463.0 703.7,466.7 704.0,468.2 704.3,469.4 704.5,472.8 704.8,475.7 705.1,474.9 705.4,478.2 705.7,480.1 705.9,481.5 706.2,483.1 706.5,487.0 706.8,488.3 707.1,489.8 707.5,493.0 707.8,493.6 708.1,493.8 708.4,496.6 708.7,499.1 709.0,501.7 709.3,505.2 709.6,506.6 709.9,506.6 710.2,509.2 710.5,511.7 710.8,514.1 711.1,517.4 711.4,518.8 711.7,518.5 712.0,522.4 712.3,523.9 712.6,523.9 712.9,527.1 713.2,530.6 713.5,533.4 713.8,535.3 714.1,534.9 714.4,536.8 714.7,539.6 715.0,539.7 715.3,544.1 715.6,545.9 715.9,549.0 716.1,549.3 716.4,550.7 716.7,554.4 716.9,555.7 717.2,557.2 717.4,559.2 717.7,560.4 717.9,563.2 718.1,565.5 718.4,566.9 718.6,569.4 718.8,570.8 719.1,573.4 719.3,574.7 719.5,576.7 719.7,578.5 720.0,580.2 720.2,583.1 720.4,586.0 720.6,586.6 720.8,587.9 721.1,592.1 721.3,594.4 721.5,594.9 721.7,597.4 722.0,599.9 722.2,602.0 722.4,603.3 722.6,603.8 722.9,607.6 723.1,611.9 723.3,612.1 723.5,612.5 723.8,615.6 724.0,617.3 724.2,619.1 724.4,621.7 724.7,624.3 724.9,626.5 725.1,628.0 725.3,628.9 725.5,630.4 725.7,634.1 726.0,635.4 726.2,637.5 726.4,639.3 726.6,641.7 726.8,643.4 727.0,643.1 727.2,646.3 727.4,649.1 727.6,652.1 727.8,653.2 728.0,656.4 728.3,656.9 728.5,660.6 728.6,662.7 728.8,662.8 729.0,665.1 729.2,666.0 729.4,669.1 729.6,670.6 729.8,672.2 730.0,675.1 730.2,677.0 730.4,677.5 730.6,680.4 730.8,682.9 731.0,684.5 731.2,686.1 731.4,688.1 731.6,690.4 731.8,692.4 732.0,695.0 732.2,696.4 732.4,698.2 732.6,700.7 732.8,702.9 733.1,704.5 733.3,706.7 733.5,708.5 733.7,710.4 733.9,713.4 734.1,715.4 734.3,718.4 734.5,718.4 734.8,721.1 735.0,721.9 735.1,724.1 735.3,726.8 735.5,728.1 735.7,730.6 735.9,733.3 736.0,734.6 736.2,737.1 736.3,737.2 736.5,740.3 736.6,742.5 736.8,744.1 736.9,746.5 737.0,748.9 737.2,751.2 737.3,751.7 737.4,753.3 737.5,755.6 737.7,757.8 737.8,760.2 737.9,762.6 738.0,763.5 738.1,765.5 738.2,767.2 738.4,770.8 738.5,772.7 738.6,773.9 738.7,777.4 738.8,780.0 738.9,780.6 739.0,782.8 739.1,785.0 739.2,787.0 739.3,788.1 739.4,789.6 739.5,790.8 739.6,794.2 739.7,797.5 739.8,798.5 739.9,799.7 739.9,802.2 740.0,805.0 740.1,806.3 740.2,807.8 740.2,810.6 740.3,812.5 740.4,814.3 740.4,816.5 740.5,819.4 740.6,821.1 740.7,821.0 740.8,823.5 740.9,826.1 741.0,827.5 741.1,829.7 741.3,832.2 741.4,835.5 741.6,836.7 741.7,838.0 741.9,840.9 742.0,842.3 742.2,843.3 742.4,845.6 742.6,849.1 742.8,850.8 743.0,852.2 743.2,854.4 743.4,856.3 743.6,858.1 743.8,859.9 744.0,861.5 744.3,864.5 744.5,865.8 744.7,868.6 744.9,870.3 745.2,872.7 745.4,875.3 745.6,877.1 745.9,878.1 746.1,878.7 746.3,881.2 746.6,884.2 746.8,885.8 747.0,887.8 747.3,890.1 747.5,892.5 747.7,895.0 748.0,895.6 748.2,897.6 748.5,900.2 748.7,902.1 748.9,903.8 749.2,906.7 749.4,908.6 749.7,909.9 750.0,911.6 750.2,914.2 750.5,915.6 750.8,917.7 751.0,919.7 751.3,921.6 751.6,922.9 751.9,925.3 752.2,927.9 752.4,929.8 752.7,931.8 753.0,933.7 753.4,935.7 753.7,938.0 754.0,939.8 754.3,941.6 754.7,943.9 755.0,945.4 755.4,947.5 755.8,949.3 756.2,951.2 756.5,953.2 756.9,955.5 757.3,957.4 757.7,959.3 758.1,961.2 758.4,963.2 758.8,965.2 759.2,967.2 759.6,969.1 759.9,971.1 760.3,973.1 760.6,975.0 761.0,977.0 761.4,979.0 761.7,980.9 762.1,982.9 762.4,984.9 762.8,986.9 763.1,988.8 763.4,990.8 763.8,992.8 764.1,994.7 764.4,996.7 764.8,998.7 765.1,1000.7 765.5,1002.6 765.9,1004.6 766.3,1006.5 766.6,1008.5 767.0,1010.5 767.4,1012.4 767.8,1014.4 768.2,1016.4 768.6,1018.3 769.0,1020.3 769.4,1022.2 769.8,1024.2 770.2,1026.2 770.6,1028.1 771.0,1030.1 771.5,1032.0 771.9,1034.0 772.3,1035.9 772.7,1037.9 773.1,1039.9 773.4,1041.8 773.8,1043.8 774.2,1045.8 774.6,1047.7 774.9,1049.7 775.3,1051.7 775.8,1053.6 776.2,1055.6 776.7,1057.5 777.3,1059.4 777.8,1061.3 778.5,1063.2 779.1,1065.1 779.9,1067.0 780.6,1068.8 781.4,1070.7 782.2,1072.5 783.1,1074.2 783.9,1075.9 784.8,1077.4 786.0,1079.5 786.7,1080.7 787.5,1086.7 791.8,1090.9 795.2,1096.9 795.0,1107.9 795.6,1120.6 796.9,1137.6 807.9,1138.0" stroke="#f03c3c" stroke-width="3.85"/>
<polyline points="196.3,1135.8 198.3,1135.8 200.6,1135.8 202.4,1135.8 204.3,1135.8 206.3,1135.8 208.3,1135.8 210.3,1135.8 212.3,1135.8 214.3,1135.8 216.3,1135.8 218.3,1135.8 220.3,1135.7 222.3,1135.7 224.3,1135.7 226.3,1135.7 228.3,1135.7 230.3,1135.7 232.3,1135.7 234.3,1135.7 236.3,1135.7 238.3,1135.6 240.3,1135.6 242.3,1135.6 244.3,1135.6 246.3,1135.6 248.3,1135.6 250.3,1135.6 252.3,1135.6 254.3,1135.5 256.3,1135.5 258.3,1135.5 260.3,1135.5 262.3,1135.5 264.3,1135.5 266.3,1135.5 268.3,1135.4 270.3,1135.4 272.3,1135.4 274.3,1135.4 276.3,1135.4 278.3,1135.4 280.3,1135.3 282.3,1135.3 284.3,1135.3 286.3,1135.3 288.4,1135.2 290.4,1135.2 292.4,1135.2 294.4,1135.2 296.4,1135.1 298.4,1135.1 300.4,1135.1 302.4,1135.0 304.4,1135.0 306.4,1135.0 308.4,1134.9 310.4,1134.9 312.4,1134.8 314.4,1134.8 316.4,1134.7 318.4,1134.7 320.4,1134.6 322.3,1134.5 324.3,1134.5 326.3,1134.4 328.3,1134.3 330.3,1134.2 332.3,1134.0 334.3,1133.8 336.3,1133.5 338.2,1133.1 340.1,1132.6 342.0,1132.0 343.7,1131.1 345.4,1130.1 347.0,1129.0 348.5,1127.7 349.9,1126.3 351.2,1124.8 352.4,1123.2 353.5,1121.5 354.7,1119.9 355.8,1118.2 356.8,1116.5 357.9,1114.8 359.0,1113.1 360.1,1111.4 361.1,1109.7 362.2,1108.0 363.2,1106.3 364.2,1104.5 365.3,1102.8 366.3,1101.1 367.3,1099.3 368.4,1097.6 369.4,1096.0 370.6,1094.4 371.8,1092.8 373.1,1091.4 374.6,1090.0 376.0,1088.6 377.6,1087.3 379.1,1086.1 380.7,1084.8 382.2,1083.5 383.8,1082.3 385.4,1081.1 387.0,1079.9 388.6,1078.7 390.2,1077.5 391.9,1076.4 393.5,1075.2 395.1,1074.0 396.7,1072.8 398.2,1071.6 399.7,1070.2 401.2,1068.9 402.6,1067.5 404.0,1066.1 405.4,1064.6 406.8,1063.2 408.3,1061.8 409.7,1060.4 411.1,1059.0 412.5,1057.6 413.8,1056.1 415.1,1054.6 416.4,1053.0 417.5,1051.4 418.7,1049.7 419.8,1048.1 420.8,1046.4 421.9,1044.7 422.9,1043.0 423.9,1041.2 424.9,1039.5 425.9,1037.7 426.8,1036.0 427.8,1034.2 428.7,1032.4 429.5,1030.6 430.4,1028.8 431.1,1027.0 431.9,1025.1 432.6,1023.2 433.3,1021.4 433.9,1019.5 434.5,1017.6 435.1,1015.7 435.7,1013.7 436.3,1011.8 436.8,1009.9 437.4,1008.0 438.0,1006.1 438.5,1004.2 439.1,1002.2 439.7,1000.3 440.3,998.4 440.8,996.5 441.4,994.5 442.0,992.5 442.6,990.6 443.1,988.7 443.7,987.1 444.3,985.3 444.9,983.2 445.5,981.2 446.0,978.9 446.6,977.1 447.2,975.6 447.8,973.4 448.4,971.6 448.9,970.1 449.5,967.9 450.1,966.0 450.6,964.2 451.2,962.7 451.7,960.0 452.2,958.2 452.8,956.5 453.3,954.2 453.8,951.4 454.3,950.5 454.9,948.0 455.4,946.5 455.9,944.5 456.4,943.0 456.9,941.1 457.4,939.2 457.8,936.7 458.3,935.1 458.8,933.5 459.2,931.8 459.7,928.9 460.1,927.0 460.5,925.5 461.0,923.1 461.4,921.2 461.9,919.5 462.3,916.9 462.8,915.9 463.3,913.8 463.8,912.5 464.3,910.4 464.8,908.3 465.3,906.0 465.8,904.5 466.3,901.8 466.8,900.3 467.3,898.3 467.9,896.4 468.4,894.3 468.9,892.9 469.5,890.5 470.0,888.5 470.5,885.8 471.0,884.0 471.5,882.5 472.0,880.5 472.5,878.2 473.1,876.0 473.6,874.6 474.1,872.5 474.6,871.0 475.1,869.3 475.7,867.0 476.2,865.2 476.8,864.2 477.3,861.7 477.8,859.7 478.4,857.9 479.0,855.5 479.5,854.1 480.1,853.1 480.7,849.4 481.3,847.4 481.9,845.7 482.6,843.6 483.2,841.9 483.9,840.5 484.5,837.9 485.3,836.3 486.0,834.2 486.9,832.8 487.8,831.7 488.9,830.7 490.0,828.9 491.1,827.1 492.0,824.3 492.8,823.0 493.6,820.9 494.5,819.2 495.5,817.5 496.9,816.0 498.8,815.1 500.9,815.1 502.8,815.0 504.7,815.3 506.5,815.8 508.2,817.3 509.7,818.6 511.0,819.8 512.3,822.5 513.6,823.6 514.9,824.5 516.3,826.1 517.8,827.5 519.3,829.6 520.8,830.9 522.2,832.2 523.4,833.4 524.4,835.5 525.4,837.0 526.3,838.5 527.2,840.1 528.0,841.5 528.8,844.3 529.6,846.3 530.5,847.7 531.3,850.3 532.1,850.0 532.8,852.2 533.6,855.1 534.4,856.9 535.1,858.9 535.8,861.1 536.4,862.6 537.1,864.8 537.7,867.3 538.2,867.4 538.8,870.4 539.3,872.6 539.8,873.9 540.4,876.1 540.9,878.2 541.4,880.5 541.9,882.1 542.5,883.7 543.0,886.0 543.6,887.6 544.2,889.0 544.7,891.4 545.3,893.6 545.9,895.0 546.5,897.0 547.1,898.9 547.8,901.8 548.4,903.7 549.0,905.5 549.6,906.5 550.2,908.0 550.8,910.1 551.4,912.3 552.0,914.5 552.6,916.1 553.2,918.6 553.8,920.5 554.3,922.1 554.9,924.0 555.5,925.8 556.1,927.2 556.7,929.7 557.3,931.5 557.9,933.1 558.5,934.6 559.1,936.7 559.7,938.9 560.4,941.3 561.0,943.7 561.7,944.9 562.4,946.0 563.1,947.7 563.7,950.8 564.4,952.8 565.2,954.1 565.9,956.2 566.6,958.7 567.3,961.0 568.0,962.1 568.7,964.1 569.5,965.5 570.2,966.8 570.9,969.2 571.6,970.6 572.3,972.8 573.0,975.0 573.7,976.6 574.4,978.7 575.2,980.2 575.9,981.8 576.7,984.4 577.4,986.0 578.2,987.4 579.0,989.3 579.9,990.8 580.8,993.2 581.7,994.7 582.6,996.2 583.6,998.9 584.6,1000.2 585.6,1001.9 586.7,1003.5 587.9,1005.1 589.1,1006.5 590.3,1008.2 591.6,1010.0 593.0,1011.2 594.5,1012.3 596.0,1014.0 597.6,1015.2 599.2,1016.2 600.9,1017.3 602.6,1018.7 604.4,1019.1 606.1,1019.7 608.0,1020.7 609.8,1022.0 611.7,1022.7 613.6,1022.6 615.6,1022.0 617.4,1022.2 619.3,1022.0 621.1,1021.2 622.9,1019.7 624.7,1018.6 626.4,1018.4 628.0,1016.5 629.6,1015.2 631.2,1014.3 632.7,1013.3 634.1,1011.2 635.4,1010.3 636.6,1008.5 637.7,1007.0 638.7,1005.3 639.6,1003.5 640.4,1001.3 641.2,998.5 641.9,997.3 642.7,996.3 643.5,994.3 644.3,992.7 645.2,990.9 646.0,989.3 646.9,987.2 647.7,984.9 648.5,982.9 649.3,981.3 650.1,979.6 650.9,978.6 651.6,976.8 652.4,974.9 653.2,972.2 653.9,970.4 654.6,967.9 655.3,966.2 656.0,965.1 656.7,962.3 657.3,960.2 658.0,958.7 658.6,956.9 659.2,955.7 659.7,954.2 660.3,951.7 660.8,949.4 661.3,947.4 661.8,945.2 662.3,943.6 662.8,941.4 663.3,939.8 663.8,937.8 664.3,936.4 664.8,933.4 665.3,931.9 665.8,930.6 666.3,928.1 666.8,926.3 667.3,924.4 667.9,922.2 668.4,920.5 668.9,918.2 669.3,916.9 669.8,914.3 670.3,912.4 670.7,910.3 671.2,909.1 671.6,907.3 672.0,905.6 672.4,903.6 672.8,901.7 673.2,899.2 673.6,896.5 674.0,894.8 674.3,893.1 674.7,891.5 675.0,889.0 675.4,887.5 675.8,885.9 676.1,884.1 676.5,881.3 676.8,878.3 677.2,876.3 677.5,875.8 677.9,873.1 678.2,871.2 678.6,869.2 678.9,867.7 679.3,866.1 679.6,864.4 680.0,862.5 680.3,860.2 680.7,857.9 681.0,856.2 681.3,854.1 681.7,851.9 682.0,850.3 682.4,847.7 682.7,845.3 683.0,844.2 683.4,842.0 683.7,840.8 684.1,838.6 684.4,836.4 684.7,834.8 685.1,832.6 685.4,830.6 685.7,828.0 686.0,826.3 686.3,824.4 686.6,822.5 686.9,820.1 687.2,819.0 687.4,816.4 687.7,813.8 688.0,812.3 688.2,810.4 688.5,808.9 688.7,807.1 689.0,804.0 689.2,801.4 689.5,799.8 689.8,797.5 690.1,796.7 690.4,794.2 690.7,792.0 691.0,790.8 691.3,789.3 691.6,786.6 692.0,784.2 692.3,782.7 692.6,780.8 693.0,778.6 693.3,777.1 693.7,774.6 694.0,771.5 694.4,770.5 694.7,769.0 695.1,767.2 695.4,765.9 695.7,763.2 696.0,761.0 696.3,759.1 696.6,756.0 696.9,753.7 697.2,753.7 697.5,750.6 697.7,749.0 698.0,747.0 698.3,745.8 698.5,744.0 698.8,741.3 699.0,738.7 699.3,737.0 699.6,734.5 699.8,734.4 700.1,731.8 700.3,728.4 700.6,726.4 700.8,724.7 701.1,723.0 701.4,722.0 701.6,720.3 701.9,718.0 702.2,715.7 702.4,713.3 702.7,711.3 702.9,709.8 703.2,707.9 703.4,706.1 703.7,702.7 704.0,701.6 704.2,698.2 704.5,696.7 704.7,695.5 705.0,693.6 705.3,692.1 705.5,690.3 705.8,688.7 706.1,685.5 706.4,683.2 706.7,682.8 706.9,680.9 707.2,677.5 707.5,675.6 707.8,673.5 708.1,670.6 708.4,669.0 708.7,667.5 709.0,666.4 709.3,663.1 709.6,662.2 709.9,661.4 710.3,658.4 710.6,655.2 710.9,654.0 711.2,652.4 711.5,649.8 711.8,647.6 712.2,644.8 712.5,644.8 712.8,642.6 713.1,640.5 713.5,637.7 713.8,636.6 714.1,635.0 714.5,633.3 714.8,629.9 715.1,628.9 715.5,626.5 715.8,624.6 716.1,622.4 716.4,619.7 716.8,618.5 717.1,616.6 717.4,614.2 717.8,611.1 718.1,609.5 718.4,608.9 718.7,608.1 719.1,606.2 719.4,604.2 719.7,601.3 720.0,599.7 720.4,597.8 720.7,595.4 721.0,593.0 721.3,590.6 721.6,589.1 721.9,587.8 722.2,585.0 722.5,582.1 722.8,581.0 723.0,579.0 723.3,576.1 723.6,575.0 723.8,572.3 724.1,570.4 724.4,568.0 724.8,566.3 725.1,565.2 725.5,564.1 725.9,561.4 726.4,560.1 727.0,557.7 727.6,553.5 728.3,551.9 729.1,551.4 730.1,551.6 731.7,552.2 733.1,553.3 733.9,556.2 734.6,557.7 735.2,558.6 735.7,560.2 736.2,563.1 736.6,566.4 737.0,567.5 737.4,569.0 737.7,571.7 738.1,574.2 738.5,577.2 738.9,578.7 739.3,579.1 739.7,580.5 740.0,583.2 740.4,585.6 740.7,587.0 741.0,590.3 741.4,590.5 741.7,593.7 742.1,596.9 742.5,598.3 742.9,599.6 743.3,600.9 743.7,603.1 744.1,605.6 744.6,607.7 745.0,609.5 745.5,611.7 745.9,613.3 746.4,615.7 746.8,618.4 747.3,618.5 747.8,620.5 748.2,622.5 748.7,623.7 749.1,626.7 749.6,628.5 750.1,630.7 750.5,632.8 751.0,634.2 751.4,635.8 751.9,638.8 752.3,640.5 752.8,641.8 753.2,643.8 753.7,645.9 754.2,646.8 754.6,649.4 755.1,651.4 755.5,653.6 756.0,656.0 756.4,657.6 756.8,659.3 757.3,661.3 757.7,663.1 758.1,665.4 758.5,666.7 758.9,669.8 759.3,672.2 759.7,673.4 760.0,675.0 760.4,677.5 760.8,679.5 761.2,682.5 761.5,683.7 761.9,685.3 762.2,686.6 762.6,688.6 762.9,690.4 763.3,692.7 763.6,694.3 763.9,695.7 764.2,698.1 764.5,701.1 764.9,703.4 765.2,704.6 765.4,707.5 765.7,709.0 766.0,711.0 766.3,712.8 766.6,714.1 766.8,716.9 767.1,719.3 767.3,720.6 767.6,722.7 767.9,724.9 768.1,727.2 768.4,727.9 768.7,729.6 768.9,731.3 769.2,733.3 769.5,737.0 769.8,738.9 770.1,741.3 770.4,742.8 770.7,743.9 771.0,746.3 771.3,748.1 771.6,751.1 771.9,752.6 772.2,753.5 772.5,756.4 772.8,758.8 773.1,759.9 773.4,761.6 773.7,762.8 774.0,766.0 774.3,768.3 774.7,770.0 775.0,772.3 775.3,774.9 775.6,776.7 775.9,778.3 776.2,780.6 776.5,782.9 776.8,784.1 777.1,785.9 777.4,788.2 777.6,789.8 777.9,792.0 778.2,793.9 778.5,795.8 778.8,797.3 779.1,800.3 779.4,802.2 779.7,803.6 780.0,806.1 780.3,808.5 780.6,810.2 781.0,812.0 781.3,814.4 781.6,815.7 781.9,817.5 782.3,819.6 782.6,822.2 783.0,824.2 783.3,825.7 783.7,827.1 784.1,830.3 784.5,831.3 784.9,832.6 785.4,834.9 785.9,837.3 786.5,840.4 787.1,841.7 787.7,842.7 788.4,845.1 789.1,847.0 789.7,848.4 790.4,850.5 791.0,852.9 791.5,854.6 792.0,857.0 792.5,859.5 792.9,860.2 793.3,861.4 793.7,863.8 794.0,866.6 794.4,867.9 794.7,869.3 795.1,871.1 795.4,873.7 795.8,875.4 796.2,877.4 796.5,879.5 797.0,881.8 797.4,884.5 797.8,885.8 798.3,886.9 798.7,890.2 799.2,890.8 799.6,892.8 800.1,895.2 800.6,897.1 801.1,898.4 801.6,900.7 802.2,902.7 802.7,905.2 803.3,907.2 803.8,909.2 804.4,912.0 805.0,913.4 805.6,915.1 806.2,917.4 806.9,919.5 807.5,921.5 808.1,922.9 808.8,924.4 809.5,926.0 810.1,927.3 810.8,929.9 811.5,932.1 812.1,933.1 812.8,935.2 813.5,937.7 814.1,939.3 814.8,940.4 815.5,942.8 816.2,944.6 816.9,946.8 817.5,949.4 818.2,951.1 818.9,953.0 819.6,954.8 820.2,956.0 820.9,956.9 821.5,960.2 822.1,962.0 822.7,963.8 823.3,965.8 823.9,966.8 824.5,969.5 825.2,971.8 825.8,973.3 826.5,975.7 827.2,978.3 828.0,979.3 828.8,981.3 829.7,982.8 830.6,984.1 831.6,986.2 832.6,987.6 833.6,989.2 834.6,990.7 835.6,992.6 836.5,994.5 837.5,996.3 838.4,998.2 839.3,999.9 840.2,1001.8 841.0,1003.6 841.8,1005.4 842.6,1007.2 843.4,1009.1 844.1,1010.9 844.8,1012.8 845.5,1014.7 846.1,1016.6 846.6,1018.5 847.1,1020.3 847.5,1022.0 848.1,1024.3 848.3,1025.8" stroke="#ff00ff" stroke-width="3.85"/>
<polyline points="196.3,1136.3 198.3,1136.3 200.6,1136.3 202.4,1136.3 204.3,1136.3 206.3,1136.3 208.3,1136.3 210.3,1136.3 212.3,1136.3 214.3,1136.3 216.3,1136.3 218.3,1136.3 220.3,1136.3 222.3,1136.3 224.3,1136.3 226.3,1136.3 228.3,1136.3 230.3,1136.3 232.3,1136.3 234.3,1136.3 236.3,1136.3 238.3,1136.3 240.3,1136.3 242.3,1136.3 244.3,1136.3 246.3,1136.2 248.3,1136.2 250.3,1136.2 252.3,1136.2 254.3,1136.2 256.3,1136.2 258.3,1136.2 260.3,1136.2 262.3,1136.2 264.3,1136.2 266.3,1136.2 268.3,1136.2 270.3,1136.2 272.3,1136.2 274.3,1136.2 276.3,1136.2 278.3,1136.2 280.3,1136.2 282.3,1136.2 284.3,1136.2 286.3,1136.2 288.3,1136.2 290.3,1136.2 292.3,1136.2 294.3,1136.2 296.3,1136.1 298.4,1136.1 300.4,1136.1 302.4,1136.1 304.4,1136.1 306.4,1136.1 308.4,1136.1 310.4,1136.1 312.4,1136.1 314.4,1136.1 316.4,1136.1 318.4,1136.1 320.4,1136.1 322.4,1136.0 324.4,1136.0 326.4,1136.0 328.4,1136.0 330.4,1136.0 332.4,1136.0 334.4,1136.0 336.4,1135.9 338.4,1135.9 340.3,1135.9 342.3,1135.9 344.3,1135.8 346.3,1135.8 348.3,1135.7 350.3,1135.5 352.3,1135.3 354.2,1134.9 356.2,1134.5 358.1,1133.9 359.9,1133.3 361.7,1132.4 363.5,1131.5 365.2,1130.5 366.8,1129.4 368.5,1128.2 370.0,1126.9 371.6,1125.6 373.1,1124.3 374.5,1123.0 376.0,1121.6 377.4,1120.2 378.8,1118.8 380.2,1117.3 381.6,1115.9 383.0,1114.5 384.4,1113.0 385.8,1111.6 387.3,1110.2 388.7,1108.8 390.1,1107.4 391.6,1106.1 393.1,1104.7 394.6,1103.4 396.0,1102.0 397.5,1100.7 399.0,1099.3 400.4,1097.9 401.9,1096.6 403.3,1095.1 404.7,1093.7 406.1,1092.3 407.4,1090.8 408.7,1089.3 410.0,1087.8 411.3,1086.3 412.6,1084.7 413.8,1083.1 415.1,1081.6 416.3,1080.0 417.4,1078.4 418.6,1076.7 419.8,1075.1 420.9,1073.5 422.0,1071.8 423.2,1070.1 424.3,1068.5 425.3,1066.8 426.4,1065.1 427.5,1063.4 428.5,1061.7 429.6,1060.0 430.7,1058.3 431.7,1056.6 432.8,1055.0 433.9,1053.3 435.0,1051.6 436.1,1049.9 437.2,1048.3 438.4,1046.6 439.5,1045.0 440.7,1043.4 441.9,1041.8 443.2,1040.3 444.4,1038.7 445.7,1037.2 447.0,1035.7 448.3,1034.1 449.7,1032.6 451.0,1031.1 452.3,1029.6 453.7,1028.2 455.1,1026.7 456.5,1025.3 458.0,1024.0 459.6,1022.8 461.2,1021.6 462.9,1020.7 464.7,1019.9 466.6,1019.3 468.5,1019.0 470.4,1018.9 472.3,1019.1 474.2,1019.6 476.0,1020.3 477.6,1021.2 479.2,1022.4 480.6,1023.8 482.0,1025.2 483.3,1026.7 484.7,1028.3 485.9,1029.8 487.2,1031.4 488.4,1033.0 489.6,1034.6 490.7,1036.3 491.7,1037.9 492.8,1039.6 493.7,1041.4 494.7,1043.1 495.6,1044.9 496.6,1046.7 497.5,1048.5 498.4,1050.3 499.3,1052.0 500.3,1053.8 501.2,1055.6 502.2,1057.3 503.1,1059.1 504.0,1060.9 505.0,1062.7 505.9,1064.4 506.9,1066.2 507.9,1067.9 508.8,1069.6 509.9,1071.4 510.9,1073.1 512.0,1074.8 513.0,1076.5 514.1,1078.1 515.2,1079.8 516.4,1081.4 517.5,1083.1 518.6,1084.7 519.8,1086.4 520.9,1088.0 522.1,1089.6 523.3,1091.3 524.5,1092.9 525.7,1094.5 526.9,1096.1 528.1,1097.6 529.4,1099.2 530.7,1100.7 532.0,1102.2 533.4,1103.6 534.8,1105.1 536.2,1106.5 537.7,1107.8 539.2,1109.2 540.7,1110.5 542.2,1111.7 543.8,1113.0 545.4,1114.2 547.0,1115.4 548.6,1116.5 550.3,1117.6 552.0,1118.7 553.7,1119.8 555.4,1120.8 557.2,1121.8 559.0,1122.7 560.8,1123.5 562.6,1124.2 564.5,1125.0 566.4,1125.6 568.3,1126.2 570.2,1126.7 572.2,1127.1 574.1,1127.5 576.1,1127.8 578.1,1128.1 580.0,1128.3 582.0,1128.5 584.0,1128.7 586.0,1128.9 588.0,1129.0 590.0,1129.2 592.0,1129.3 594.0,1129.5 596.0,1129.6 598.0,1129.7 600.0,1129.8 602.0,1129.9 604.0,1129.9 606.0,1129.9 608.0,1129.9 610.0,1129.9 612.0,1129.9 614.0,1129.8 616.0,1129.8 618.0,1129.7 620.0,1129.6 622.0,1129.5 624.0,1129.5 626.0,1129.4 628.0,1129.2 630.0,1129.1 632.0,1129.0 634.0,1128.8 636.0,1128.7 638.0,1128.5 640.0,1128.2 641.9,1128.0 643.9,1127.7 645.9,1127.4 647.9,1127.0 649.8,1126.6 651.8,1126.2 653.7,1125.7 655.7,1125.2 657.6,1124.6 659.5,1124.0 661.3,1123.3 663.2,1122.5 665.0,1121.7 666.8,1120.8 668.6,1119.9 670.3,1118.9 672.0,1117.9 673.7,1116.8 675.4,1115.7 677.0,1114.5 678.6,1113.3 680.1,1112.0 681.6,1110.7 683.1,1109.3 684.5,1107.9 685.9,1106.4 687.2,1104.9 688.5,1103.4 689.7,1101.8 690.9,1100.2 692.0,1098.5 693.0,1096.9 694.1,1095.2 695.0,1093.4 696.0,1091.6 696.9,1089.8 697.8,1088.0 698.6,1086.2 699.5,1084.4 700.3,1082.6 701.1,1080.7 701.9,1078.8 702.7,1077.1 703.5,1075.2 704.2,1073.3 704.9,1071.4 705.6,1069.5 706.3,1067.5 706.9,1065.7 707.5,1063.8 708.1,1062.2 708.7,1060.1 709.2,1057.9 709.7,1056.6 710.2,1054.6 710.7,1052.4 711.2,1050.5 711.6,1048.7 712.0,1046.8 712.4,1044.1 712.8,1042.1 713.1,1040.4 713.5,1038.5 713.8,1036.2 714.2,1034.6 714.5,1032.7 714.9,1031.3 715.3,1029.1 715.6,1026.8 716.0,1024.8 716.4,1022.9 716.8,1021.1 717.2,1019.3 717.6,1017.0 718.0,1014.9 718.3,1012.6 718.6,1010.5 718.9,1009.0 719.2,1007.6 719.4,1005.9 719.7,1003.5 719.9,1001.2 720.2,999.6 720.4,997.0 720.6,995.5 720.9,993.4 721.1,990.7 721.4,989.0 721.6,987.3 721.9,985.5 722.1,983.6 722.4,981.3 722.6,979.7 722.9,977.3 723.1,975.2 723.4,973.2 723.7,971.6 723.9,969.9 724.2,967.2 724.4,965.3 724.7,962.7 724.9,961.6 725.2,959.7 725.5,957.5 725.7,955.5 726.0,953.6 726.3,951.9 726.5,949.6 726.8,947.2 727.1,945.4 727.4,943.6 727.7,941.9 728.0,940.1 728.2,937.8 728.5,936.0 728.8,934.2 729.1,932.3 729.4,930.3 729.8,927.3 730.1,925.6 730.4,923.9 730.7,921.3 731.0,919.6 731.3,917.9 731.7,916.2 732.0,914.1 732.3,911.7 732.7,910.0 733.0,907.8 733.4,906.0 733.7,904.0 734.0,902.3 734.4,900.5 734.7,898.7 735.1,895.6 735.5,894.3 735.8,893.0 736.2,890.9 736.6,888.5 736.9,886.8 737.3,884.5 737.7,882.7 738.1,880.5 738.5,878.4 739.0,876.5 739.4,874.5 739.8,873.1 740.2,872.1 740.6,869.1 741.1,867.0 741.5,865.0 741.9,863.1 742.3,861.2 742.7,859.3 743.1,856.9 743.5,854.6 743.9,853.0 744.2,851.4 744.6,849.3 744.9,847.0 745.3,845.2 745.6,842.9 745.9,840.6 746.3,839.4 746.6,837.6 746.9,835.0 747.2,833.1 747.6,831.3 747.9,829.8 748.2,827.4 748.5,824.8 748.9,822.7 749.2,820.9 749.5,819.2 749.8,817.3 750.2,815.9 750.5,814.7 750.9,811.9 751.2,809.2 751.6,807.4 751.9,805.8 752.3,804.3 752.7,802.5 753.0,800.3 753.4,797.4 753.8,796.2 754.1,794.6 754.5,792.0 754.9,790.0 755.2,787.6 755.6,786.5 755.9,784.3 756.3,782.0 756.6,780.9 757.0,778.5 757.3,777.0 757.6,774.5 757.9,772.1 758.2,769.8 758.5,768.2 758.8,766.1 759.1,765.0 759.4,762.8 759.7,760.2 760.1,758.6 760.4,757.8 760.8,754.7 761.1,751.6 761.5,750.6 761.9,748.2 762.4,747.7 762.8,745.2 763.3,742.2 763.8,740.2 764.3,739.0 764.8,738.0 765.4,735.4 766.0,733.1 766.7,732.3 767.4,729.2 768.1,727.2 769.0,725.2 769.9,724.3 771.0,722.6 772.1,720.3 773.3,718.9 774.6,716.8 775.9,715.3 777.1,714.9 778.4,713.4 779.7,712.4 780.9,710.3 782.2,707.9 783.5,706.5 784.9,705.5 786.2,703.9 787.0,702.9 790.3,699.2 795.1,708.8 799.9,724.7 806.2,731.1 814.2,747.0 823.7,769.3 833.3,788.4 839.7,801.1 844.4,820.2 849.2,842.5 855.6,868.0 860.4,890.3 863.3,900.0 866.7,908.3 870.0,904.2 874.2,902.5 877.5,931.7 883.3,956.7 888.3,980.0 895.0,993.3 900.0,1005.0 906.7,1007.5 909.2,1013.3 913.3,1027.5 918.3,1023.3 921.7,1021.7 925.8,1035.0 928.3,1050.0 930.8,1060.0" stroke="#00d289" stroke-width="3.85"/>
<polyline points="672.8,1135.0 674.9,1135.0 679.0,1134.2 680.3,1133.9 681.7,1133.5 683.2,1133.0 684.8,1132.5 686.4,1131.9 688.0,1131.1 689.6,1130.3 691.3,1129.4 692.9,1128.4 694.4,1127.3 696.0,1126.2 697.5,1125.0 699.1,1123.8 700.5,1122.5 702.0,1121.1 703.4,1119.7 704.9,1118.4 706.2,1117.1 707.5,1115.4 708.8,1113.9 710.0,1112.3 711.2,1110.7 712.3,1109.4 713.3,1107.6 714.3,1105.7 715.2,1104.4 716.1,1103.0 717.0,1100.9 717.8,1098.8 718.6,1097.2 719.3,1095.1 720.1,1093.3 720.7,1091.3 721.4,1089.5 722.1,1087.6 722.7,1085.2 723.3,1083.8 724.0,1081.6 724.6,1079.9 725.2,1077.8 725.7,1075.9 726.3,1074.2 726.9,1072.4 727.4,1070.3 728.0,1067.9 728.5,1066.5 729.1,1064.5 729.6,1062.4 730.1,1060.7 730.6,1059.0 731.1,1057.1 731.6,1055.2 732.1,1053.0 732.6,1051.1 733.1,1048.8 733.5,1047.2 734.0,1045.4 734.5,1043.7 734.9,1041.3 735.4,1039.0 735.8,1037.4 736.2,1035.4 736.7,1033.8 737.1,1031.9 737.5,1030.1 737.9,1028.1 738.3,1025.8 738.7,1023.7 739.1,1022.2 739.5,1019.9 739.9,1018.3 740.3,1016.0 740.7,1013.9 741.1,1011.6 741.5,1010.3 741.9,1007.9 742.3,1005.9 742.6,1004.3 743.0,1002.4 743.4,999.8 743.7,998.0 744.0,996.0 744.4,994.7 744.7,992.6 745.0,989.8 745.3,988.3 745.6,986.4 745.9,984.7 746.2,983.3 746.5,980.5 746.7,978.5 747.0,976.5 747.3,975.0 747.6,972.4 747.9,971.0 748.2,968.7 748.5,966.3 748.7,964.4 749.0,962.2 749.3,960.9 749.6,958.9 749.9,956.6 750.2,955.5 750.5,953.4 750.7,951.2 751.0,948.7 751.3,946.7 751.6,945.7 751.9,943.5 752.2,941.2 752.4,938.4 752.7,936.8 753.0,934.4 753.3,932.9 753.6,930.6 753.8,929.2 754.1,926.9 754.4,925.1 754.7,923.5 754.9,920.9 755.2,918.8 755.5,917.1 755.7,914.5 756.0,913.0 756.3,911.0 756.5,909.5 756.8,907.9 757.0,905.7 757.3,903.3 757.5,901.3 757.8,899.6 758.0,896.7 758.3,895.6 758.5,893.3 758.8,891.8 759.0,889.2 759.3,887.3 759.5,885.1 759.8,883.6 760.0,881.1 760.2,879.2 760.5,877.3 760.7,875.2 761.0,873.2 761.2,871.0 761.4,869.7 761.7,867.0 761.9,865.5 762.1,863.6 762.4,861.3 762.6,860.0 762.8,858.3 763.1,855.7 763.3,852.7 763.5,850.9 763.7,849.0 763.9,846.4 764.2,846.4 764.4,844.2 764.6,842.6 764.8,839.6 765.1,837.3 765.3,835.1 765.6,833.5 765.8,831.8 766.1,829.8 766.3,828.4 766.6,826.8 766.9,824.1 767.2,821.4 767.5,819.0 767.8,816.9 768.2,815.6 768.5,813.5 768.9,811.5 769.2,809.7 769.6,807.9 770.0,806.4 770.3,803.8 770.7,802.2 771.0,799.6 771.4,796.6 771.7,796.7 772.0,794.9 772.3,792.1 772.6,790.3 772.9,788.5 773.2,786.7 773.5,784.3 773.8,781.9 774.0,781.0 774.3,779.1 774.6,777.1 774.8,774.3 775.1,773.1 775.3,770.2 775.6,768.3 775.8,767.0 776.0,764.2 776.3,763.5 776.5,760.9 776.8,758.6 777.0,757.4 777.2,754.8 777.5,752.7 777.7,751.5 778.0,748.7 778.2,747.4 778.5,744.1 778.7,742.4 778.9,740.2 779.2,739.2 779.4,736.3 779.7,735.0 779.9,732.8 780.2,730.8 780.4,729.1 780.6,727.5 780.9,726.1 781.1,723.5 781.4,720.5 781.6,719.5 781.8,717.1 782.1,714.5 782.3,712.7 782.6,710.6 782.8,709.6 783.0,706.7 783.3,705.4 783.5,703.6 783.8,701.7 784.0,699.9 784.2,696.9 784.5,694.6 784.7,694.0 784.9,691.4 785.2,689.0 785.4,686.9 785.6,684.9 785.9,683.2 786.1,681.7 786.4,679.6 786.6,676.2 786.8,676.3 787.1,674.3 787.3,671.2 787.5,669.5 787.8,666.5 788.0,664.6 788.2,662.6 788.5,661.3 788.7,659.4 788.9,657.2 789.2,654.8 789.4,653.8 789.6,649.7 789.8,650.0 790.1,647.1 790.3,644.1 790.5,643.0 790.8,640.1 791.0,638.7 791.2,637.9 791.5,636.9 791.7,634.3 791.9,631.2 792.2,629.9 792.4,625.9 792.6,625.5 792.9,623.3 793.1,620.6 793.3,620.7 793.6,618.0 793.8,615.3 794.1,614.8 794.3,611.7 794.5,608.6 794.8,606.9 795.0,604.6 795.3,601.8 795.5,602.3 795.8,599.4 796.0,597.4 796.2,595.5 796.5,594.2 796.7,591.4 797.0,589.1 797.3,586.2 797.5,585.1 797.8,583.6 798.1,581.6 798.3,580.6 798.6,577.9 798.9,576.1 799.2,574.0 799.5,571.5 799.9,570.8 800.2,569.0 800.5,565.9 800.8,563.2 801.2,561.4 801.5,559.9 801.9,559.0 802.2,556.4 802.5,555.2 802.9,553.9 803.2,549.9 803.5,548.0 803.9,546.3 804.2,545.7 804.5,544.1 804.8,540.8 805.1,538.7 805.5,537.2 805.8,534.1 806.1,534.2 806.5,531.0 806.8,529.0 807.2,526.3 807.6,526.0 808.0,524.0 808.4,520.3 808.8,518.3 809.3,517.1 809.7,515.8 810.2,513.3 810.6,511.5 811.1,509.4 811.6,507.9 812.0,503.8 812.5,502.5 813.0,501.4 813.5,498.7 814.0,497.2 814.5,495.1 815.0,494.6 815.5,491.4 816.0,488.8 816.5,487.3 817.0,485.4 817.6,483.4 818.1,479.7 818.6,479.3 819.2,478.1 819.7,476.9 820.3,473.8 820.8,471.5 821.4,470.6 821.9,469.7 822.5,466.6 823.1,465.2 823.7,461.3 824.3,460.7 824.9,458.8 825.5,456.8 826.1,456.3 826.8,452.6 827.4,451.9 828.1,451.1 828.9,447.0 829.6,446.5 830.3,444.6 831.1,441.5 831.9,441.6 832.7,437.7 833.5,436.2 834.4,436.3 835.2,433.8 836.0,431.1 836.8,429.0 837.6,427.0 838.4,425.4 839.3,423.0 840.1,422.3 841.1,421.1 842.1,417.8 843.2,417.2 844.5,415.1 846.0,413.8 847.5,413.3 849.2,412.0 850.9,409.7 852.7,410.7 854.6,408.9 856.6,408.3 858.6,405.6 860.7,407.2 862.6,408.3 864.0,410.6 865.1,412.4 866.1,413.7 866.9,415.9 867.7,416.5 868.5,420.7 869.4,422.8 870.4,423.6 871.6,424.2 873.2,426.1 875.3,428.2 877.2,428.2 878.5,430.0 879.4,430.4 880.1,432.7 880.7,433.7 881.2,437.1 881.7,440.0 882.2,440.5 882.8,442.7 883.5,443.3 884.4,445.0 885.2,449.1 886.2,448.8 887.1,451.0 888.1,453.3 889.0,454.9 889.9,454.7 890.7,456.9 891.4,459.8 892.2,461.4 892.9,465.1 893.6,464.7 894.3,467.8 895.1,469.2 895.8,471.9 896.6,472.3 897.4,473.1 898.3,475.3 899.3,478.5 900.2,480.9 901.1,479.8 902.0,481.6 902.8,485.1 903.5,488.5 904.2,490.4 904.8,491.3 905.4,492.3 906.0,495.5 906.6,495.4 907.2,497.6 907.8,501.1 908.4,503.5 908.9,505.2 909.5,506.5 910.0,508.2 910.6,509.4 911.1,512.8 911.7,514.6 912.3,515.9 912.8,519.5 913.4,520.9 913.9,522.2 914.5,523.4 915.1,526.3 915.7,527.7 916.2,528.6 916.8,531.3 917.4,532.0 918.0,536.4 918.5,537.3 919.1,540.2 919.7,539.4 920.3,542.8 920.8,545.0 921.4,548.4 921.9,549.1 922.5,550.8 923.0,552.9 923.5,554.7 924.1,557.5 924.6,560.1 925.1,559.8 925.6,562.1 926.1,564.0 926.6,567.1 927.1,569.0 927.6,570.8 928.1,571.8 928.5,573.7 929.0,575.9 929.5,578.6 930.0,580.6 930.5,581.4 930.9,583.5 931.4,586.3 931.9,588.6 932.4,589.8 932.8,591.3 933.3,593.2 933.8,593.8 934.3,597.7 934.8,598.8 935.2,601.4 935.7,603.8 936.2,604.8 936.7,606.8 937.2,607.8 937.6,610.9 938.1,612.8 938.6,615.4 939.1,617.0 939.6,617.9 940.1,619.3 940.6,622.8 941.1,624.7 941.5,627.0 942.0,629.1 942.5,630.5 943.0,633.0 943.5,635.0 944.0,636.0 944.6,638.6 945.1,641.0 945.6,641.4 946.1,644.2 946.6,646.4 947.1,647.7 947.7,649.7 948.2,651.6 948.7,653.1 949.2,654.6 949.7,658.0 950.3,659.7 950.8,660.5 951.3,663.1 951.8,663.7 952.4,667.1 952.9,669.3 953.4,671.1 953.9,672.1 954.4,675.0 954.9,677.2 955.4,679.9 956.0,680.5 956.5,683.1 957.0,684.5 957.5,686.1 958.0,688.1 958.5,690.7 959.0,691.8 959.5,693.6 960.0,696.8 960.5,698.1 961.0,698.7 961.5,701.9 962.0,704.1 962.5,705.8 963.0,707.8 963.6,708.3 964.1,710.7 964.6,712.9 965.2,715.2 965.7,717.4 966.3,718.4 966.8,720.8 967.4,723.6 968.0,725.9 968.5,727.0 969.1,729.8 969.7,731.5 970.2,732.6 970.8,733.6 971.4,736.5 971.9,738.3 972.5,741.0 973.0,742.3 973.6,744.0 974.1,746.4 974.7,747.7 975.2,750.4 975.7,752.5 976.3,753.7 976.8,754.9 977.3,757.4 977.9,760.5 978.4,761.3 978.9,763.7 979.5,765.3 980.0,767.0 980.6,768.5 981.1,770.1 981.7,773.5 982.2,775.2 982.8,776.9 983.3,778.8 983.9,780.2 984.4,781.7 985.0,784.4 985.6,787.1 986.2,788.3 986.7,791.1 987.3,792.8 987.9,794.1 988.5,796.4 989.0,798.4 989.6,801.0 990.2,801.7 990.7,802.8 991.3,805.3 991.9,807.0 992.5,809.9 993.0,811.5 993.6,813.4 994.2,815.7 994.7,816.3 995.3,818.4 995.9,822.0 996.4,823.2 997.0,824.8 997.6,826.9 998.2,827.6 998.8,829.9 999.4,832.1 1000.0,834.1 1000.6,836.4 1001.2,837.9 1001.9,840.2 1002.5,841.3 1003.2,843.8 1003.8,846.2 1004.5,848.0 1005.2,849.2 1005.9,851.5 1006.6,853.2 1007.3,854.3 1008.1,856.7 1008.8,858.3 1009.5,860.3 1010.3,862.9 1011.0,864.4 1011.8,865.9 1012.5,868.2 1013.2,870.4 1014.0,871.5 1014.7,873.5 1015.5,875.7 1016.2,877.4 1017.0,879.2 1017.8,880.8 1018.5,882.7 1019.3,884.0 1020.1,886.2 1020.8,887.3 1021.6,890.2 1022.4,892.7 1023.2,894.7 1024.0,895.7 1024.8,897.1 1025.6,899.4 1026.4,901.5 1027.2,902.4 1028.0,904.7 1028.9,907.1 1029.7,908.8 1030.5,910.5 1031.4,912.0 1032.2,913.5 1033.1,916.0 1034.0,918.2 1034.9,919.7 1035.7,921.3 1036.6,923.3 1037.5,925.2 1038.4,926.8 1039.4,928.7 1040.3,930.2 1041.2,931.8 1042.1,933.1 1043.1,935.6 1044.0,936.9 1044.9,938.6 1045.9,940.6 1046.8,942.9 1047.7,944.4 1048.7,946.3 1049.6,948.0 1050.5,949.3 1051.4,951.1 1052.3,953.5 1053.3,955.5 1054.2,957.3 1055.1,958.1 1056.0,960.4 1056.9,962.0 1057.7,963.6 1058.6,964.7 1059.5,967.5 1060.4,969.2 1061.3,971.2 1062.2,973.3 1063.1,973.9 1064.0,975.7 1064.9,977.6 1065.9,979.6 1066.8,981.7 1067.8,983.5 1068.7,984.4 1069.7,986.4 1070.7,988.1 1071.8,990.5 1072.9,992.2 1073.9,993.8 1075.1,995.3 1076.2,996.8 1077.4,998.6 1078.5,999.7 1079.7,1001.4 1080.9,1003.2 1082.2,1005.0 1083.4,1006.5 1084.6,1008.0 1085.9,1009.5 1087.1,1011.3 1088.4,1013.6 1089.7,1014.7 1091.0,1015.9 1092.2,1017.5 1093.5,1018.9 1094.8,1020.0 1096.1,1022.3 1097.4,1023.9 1098.7,1025.3 1100.0,1026.5 1101.4,1027.6 1102.7,1029.7 1104.0,1030.6 1105.4,1032.6 1106.8,1033.4 1108.2,1035.4 1109.6,1036.8 1111.0,1038.0 1112.4,1039.0 1113.9,1041.1 1115.3,1042.0 1116.8,1043.7 1118.2,1044.5 1119.7,1046.4 1121.2,1047.9 1122.7,1048.5 1124.3,1050.5 1125.8,1051.5 1127.3,1052.9 1128.9,1053.7 1130.4,1055.4 1131.9,1056.6 1133.5,1057.6 1135.1,1059.1 1136.6,1060.5 1138.2,1061.9 1139.8,1063.1 1141.3,1064.4 1142.9,1065.5 1144.5,1066.5 1146.1,1067.4 1147.7,1069.1 1149.3,1070.3 1150.9,1071.8 1152.6,1071.9 1154.2,1073.3 1155.8,1074.9 1157.5,1076.0 1159.1,1077.0 1160.8,1078.3 1162.4,1079.5 1164.1,1080.0 1165.8,1081.5 1167.4,1083.2 1169.1,1083.5 1170.8,1085.0 1172.5,1085.9 1174.2,1087.3 1175.9,1087.4 1177.7,1089.0 1179.4,1090.0 1181.1,1090.9 1182.9,1091.5 1184.6,1092.7 1186.4,1093.9 1188.2,1094.6 1190.0,1095.3 1191.8,1096.3 1193.6,1097.2 1195.4,1098.1 1197.2,1099.0 1199.0,1099.7 1200.9,1100.6 1202.7,1101.3 1204.5,1102.2 1206.4,1103.2 1208.2,1103.6 1210.1,1104.5 1212.0,1105.1 1213.9,1105.8 1215.7,1106.4 1217.6,1106.9 1219.5,1107.4 1221.4,1108.0 1223.3,1109.3 1225.2,1109.7 1227.1,1110.3 1229.0,1110.6 1231.0,1111.1 1232.9,1111.7 1234.8,1112.6 1236.7,1113.2 1238.7,1113.2 1240.6,1113.9 1242.5,1114.6 1244.5,1115.0 1246.4,1115.9 1248.4,1115.8 1250.3,1116.4 1252.3,1116.8 1254.2,1117.2 1256.2,1117.7 1258.1,1118.2 1260.1,1118.7 1262.1,1118.9 1264.0,1119.2 1266.0,1119.8 1267.9,1119.8 1269.9,1120.9 1271.9,1121.0 1273.9,1121.6 1275.8,1121.6 1277.8,1121.9 1279.8,1122.0 1281.7,1122.4 1283.7,1122.9 1285.7,1122.6 1287.7,1123.3 1289.7,1123.8 1291.6,1123.7 1293.6,1124.0 1295.6,1124.4 1297.6,1124.6 1299.6,1124.9 1301.6,1125.1 1303.5,1125.3 1305.5,1125.5 1307.5,1125.7 1309.5,1125.9 1311.5,1126.1 1313.5,1126.3 1315.5,1126.5 1317.5,1126.7 1319.5,1126.8 1321.5,1127.0 1323.5,1127.2 1325.4,1127.3 1327.4,1127.5 1329.4,1127.6 1331.4,1127.8 1333.4,1127.9 1335.4,1128.1 1337.4,1128.2 1339.4,1128.3 1341.4,1128.5 1343.4,1128.6 1345.4,1128.7 1347.4,1128.8 1349.4,1128.9 1351.4,1129.0 1353.4,1129.2 1355.4,1129.3 1357.4,1129.4 1359.4,1129.5 1361.4,1129.6 1363.4,1129.7 1365.4,1129.8 1367.4,1129.9 1369.4,1130.0 1371.4,1130.1 1373.4,1130.1 1375.4,1130.2 1377.4,1130.3 1379.4,1130.4 1381.4,1130.5 1383.4,1130.5 1385.4,1130.6 1387.4,1130.7 1389.4,1130.7 1391.4,1130.8 1393.4,1130.8 1395.4,1130.9 1397.4,1130.9 1399.4,1130.9 1401.4,1131.0 1403.4,1131.0 1405.4,1131.0 1407.4,1131.1 1409.4,1131.1 1411.4,1131.1 1413.4,1131.2 1415.4,1131.2 1417.4,1131.2 1419.4,1131.2 1421.4,1131.3 1423.3,1131.3 1425.3,1131.3 1427.3,1131.3 1429.3,1131.3 1431.3,1131.4 1433.3,1131.4 1435.3,1131.4 1437.3,1131.4 1439.3,1131.4 1441.3,1131.5 1443.3,1131.5 1445.3,1131.5 1447.3,1131.5 1449.3,1131.5 1451.3,1131.5 1453.3,1131.6 1455.3,1131.6 1457.3,1131.6 1459.3,1131.6 1461.3,1131.6 1463.3,1131.6 1465.3,1131.7 1467.3,1131.7 1469.3,1131.7 1471.3,1131.7 1473.3,1131.7 1475.3,1131.7 1477.3,1131.7 1479.3,1131.8 1481.3,1131.8 1483.3,1131.8 1485.3,1131.8 1487.3,1131.8 1489.3,1131.8 1491.3,1131.8 1493.3,1131.8 1495.3,1131.8 1497.3,1131.9 1499.3,1131.9 1501.3,1131.9 1503.3,1131.9 1505.3,1131.9 1507.3,1131.9 1509.3,1131.9 1511.3,1131.9 1513.3,1131.9 1515.3,1131.9 1517.3,1131.9 1519.3,1131.9 1521.3,1132.0 1523.3,1132.0 1525.3,1132.0 1527.3,1132.0 1529.3,1132.0 1531.3,1132.0 1533.3,1132.0 1535.2,1132.0 1537.1,1132.0 1539.0,1132.0 1540.8,1132.0 1542.5,1132.0 1544.2,1132.0 1545.7,1132.0 1547.1,1132.0 1548.3,1132.0 1553.4,1132.0 1553.5,1132.0" stroke="#0000ff" stroke-width="8.1"/>
<polyline points="672.8,1135.0 674.9,1134.9 679.1,1133.9 680.4,1133.6 681.8,1133.2 683.3,1132.7 684.9,1132.2 686.5,1131.6 688.2,1130.8 689.9,1130.1 691.6,1129.2 693.3,1128.3 694.9,1127.3 696.6,1126.2 698.2,1125.1 699.8,1124.0 701.4,1122.9 703.0,1121.7 704.5,1120.3 706.0,1119.1 707.4,1117.7 708.8,1116.4 710.1,1115.1 711.3,1113.6 712.5,1111.8 713.7,1110.3 714.8,1108.6 715.8,1106.5 716.7,1105.0 717.6,1103.4 718.5,1101.8 719.3,1100.1 720.1,1097.9 720.9,1095.9 721.6,1094.3 722.2,1092.1 722.9,1090.4 723.5,1088.5 724.1,1086.5 724.7,1084.8 725.2,1082.6 725.8,1081.1 726.3,1078.7 726.8,1077.1 727.3,1075.0 727.8,1073.4 728.2,1071.2 728.7,1069.1 729.1,1067.0 729.5,1065.4 729.9,1063.6 730.3,1061.6 730.7,1059.0 731.1,1057.1 731.5,1054.8 731.9,1053.1 732.3,1051.7 732.7,1050.1 733.1,1047.6 733.5,1045.6 733.8,1043.8 734.2,1042.2 734.6,1040.1 734.9,1037.3 735.3,1035.9 735.6,1034.1 736.0,1032.3 736.3,1030.1 736.7,1028.4 737.0,1026.5 737.4,1024.5 737.7,1022.2 738.1,1020.0 738.4,1018.1 738.8,1016.2 739.1,1014.3 739.5,1012.8 739.8,1010.6 740.2,1008.2 740.6,1005.8 740.9,1004.3 741.3,1002.2 741.6,1000.7 741.9,998.3 742.3,996.7 742.6,995.7 742.9,992.8 743.2,990.8 743.5,988.9 743.7,986.5 744.0,985.0 744.3,983.4 744.6,981.1 744.8,978.9 745.1,977.5 745.4,975.0 745.6,973.5 745.9,971.2 746.2,968.9 746.4,966.7 746.7,964.5 746.9,962.9 747.2,960.5 747.4,958.6 747.7,957.8 748.0,955.9 748.2,953.2 748.5,950.9 748.7,948.8 749.0,947.3 749.2,944.8 749.5,943.0 749.7,940.7 750.0,938.0 750.2,937.1 750.5,935.1 750.7,932.8 751.0,931.2 751.2,928.9 751.5,927.3 751.7,924.8 752.0,923.8 752.2,921.1 752.5,919.9 752.7,918.0 753.0,914.6 753.2,913.2 753.5,911.3 753.7,909.1 753.9,907.3 754.2,905.5 754.4,904.0 754.7,901.1 754.9,899.2 755.2,897.3 755.4,895.9 755.7,893.1 755.9,891.1 756.2,889.6 756.4,886.9 756.7,885.5 756.9,883.7 757.1,881.4 757.4,880.0 757.6,877.3 757.9,874.4 758.1,873.4 758.3,871.7 758.6,869.9 758.8,867.6 759.0,865.4 759.3,863.8 759.5,862.4 759.7,859.5 759.9,857.6 760.2,855.0 760.4,853.3 760.6,851.6 760.8,849.7 761.0,848.9 761.2,845.4 761.4,843.8 761.6,841.4 761.8,838.8 762.0,837.9 762.2,834.9 762.4,834.5 762.6,831.0 762.8,830.3 763.0,827.5 763.2,825.3 763.4,824.2 763.6,822.1 763.7,819.5 763.9,817.8 764.1,816.1 764.3,814.1 764.5,811.6 764.6,809.1 764.8,808.4 765.0,805.7 765.2,804.5 765.3,802.6 765.5,800.7 765.7,798.3 765.8,794.9 766.0,793.8 766.2,791.5 766.3,789.7 766.5,788.2 766.7,785.9 766.9,783.8 767.0,781.7 767.2,782.0 767.4,777.7 767.5,776.3 767.7,773.5 767.9,771.4 768.1,770.3 768.2,768.3 768.4,765.7 768.6,764.5 768.8,762.7 769.0,759.5 769.1,758.9 769.3,756.6 769.5,753.2 769.7,751.5 769.9,749.8 770.0,748.5 770.2,746.5 770.4,743.9 770.6,741.6 770.8,740.0 770.9,738.2 771.1,736.4 771.3,734.4 771.5,732.7 771.7,730.5 771.8,727.5 772.0,725.6 772.2,723.1 772.4,721.4 772.6,720.6 772.7,718.6 772.9,715.6 773.1,715.4 773.3,712.6 773.5,711.3 773.7,708.3 773.8,706.8 774.0,705.1 774.2,702.7 774.4,700.3 774.6,699.1 774.8,696.8 775.0,694.8 775.1,692.6 775.3,690.6 775.5,687.7 775.7,685.2 775.9,683.8 776.1,682.3 776.3,681.7 776.5,679.8 776.7,675.8 776.9,673.0 777.0,672.6 777.2,670.6 777.4,668.0 777.6,665.4 777.8,664.7 778.0,662.2 778.2,660.4 778.4,659.4 778.6,656.4 778.8,653.8 779.0,652.1 779.2,649.9 779.4,647.7 779.6,648.1 779.8,645.2 780.0,643.1 780.2,640.7 780.4,637.7 780.6,635.8 780.8,633.5 781.0,632.0 781.2,630.8 781.4,627.2 781.6,626.8 781.8,624.8 782.0,623.0 782.2,621.0 782.4,618.9 782.6,617.1 782.8,616.0 783.0,613.5 783.2,611.0 783.4,609.3 783.6,607.7 783.8,604.4 784.0,602.1 784.2,601.5 784.4,599.3 784.6,597.9 784.8,594.2 785.0,591.8 785.2,590.8 785.4,589.0 785.6,586.6 785.8,584.8 786.0,582.6 786.2,580.1 786.4,578.7 786.6,576.9 786.8,573.8 787.0,573.5 787.2,571.4 787.3,568.5 787.5,566.5 787.7,564.5 787.9,563.0 788.1,561.1 788.3,558.6 788.5,556.9 788.7,555.7 788.8,553.1 789.0,551.2 789.2,549.1 789.4,545.9 789.6,544.8 789.8,543.2 790.0,540.8 790.2,539.7 790.5,537.4 790.7,535.2 790.9,531.4 791.2,531.3 791.4,529.6 791.6,527.2 791.9,525.2 792.2,522.8 792.4,521.1 792.7,519.6 793.0,518.0 793.3,514.2 793.6,513.6 793.9,512.5 794.1,509.8 794.4,507.1 794.7,506.1 795.0,504.3 795.3,501.6 795.6,498.6 795.8,497.7 796.1,495.2 796.4,492.1 796.6,491.8 796.9,490.3 797.2,487.8 797.4,485.5 797.7,483.4 797.9,481.3 798.2,480.8 798.4,477.5 798.6,474.5 798.9,473.4 799.1,472.8 799.3,469.8 799.6,468.2 799.8,466.6 800.0,463.5 800.3,461.0 800.5,459.7 800.8,459.0 801.0,455.0 801.3,453.9 801.5,452.4 801.8,449.4 802.0,447.5 802.3,446.1 802.5,443.8 802.8,441.9 803.0,440.9 803.3,438.1 803.6,436.7 803.8,433.8 804.1,431.8 804.4,429.2 804.6,428.4 804.9,426.5 805.2,423.9 805.4,421.1 805.7,419.0 806.0,417.9 806.3,416.5 806.6,414.4 806.8,413.2 807.1,410.1 807.4,409.3 807.7,407.6 808.0,406.9 808.3,403.3 808.6,400.0 808.9,399.6 809.2,396.7 809.5,396.0 809.8,391.6 810.1,389.4 810.4,388.2 810.7,386.1 811.0,384.9 811.3,381.8 811.6,381.1 811.8,379.3 812.1,376.5 812.4,374.7 812.7,371.6 812.9,369.7 813.2,369.8 813.5,366.8 813.8,364.1 814.0,365.0 814.3,359.9 814.6,359.7 814.9,356.4 815.2,356.4 815.5,352.9 815.8,350.7 816.1,347.0 816.4,348.0 816.7,345.2 817.0,340.5 817.4,340.9 817.7,338.6 818.1,334.7 818.4,333.6 818.8,330.9 819.2,330.1 819.6,327.8 820.0,326.7 820.4,325.9 820.9,324.2 821.3,322.1 821.8,319.9 822.2,316.8 822.7,316.0 823.2,313.6 823.7,309.5 824.2,310.4 824.7,307.7 825.2,305.9 825.7,303.6 826.2,302.2 826.6,300.9 827.1,298.3 827.6,294.3 828.1,294.5 828.5,293.3 829.0,292.2 829.5,289.0 830.1,286.3 830.6,285.0 831.1,283.7 831.7,279.7 832.2,277.6 832.8,277.3 833.4,276.0 834.0,272.6 834.6,271.8 835.3,268.8 835.9,268.4 836.6,266.0 837.4,262.6 838.2,262.1 839.1,261.0 840.0,259.3 841.2,256.9 842.6,253.2 844.1,252.9 845.7,253.4 847.2,251.7 848.7,249.3 850.3,247.1 851.9,246.4 853.7,246.9 855.7,249.8 857.7,248.6 859.3,246.1 860.7,243.4 862.1,242.2 863.5,241.0 865.0,243.9 866.4,245.1 867.8,249.5 868.9,251.6 870.0,251.5 870.9,252.6 871.9,255.4 873.0,258.2 874.2,258.4 875.7,258.8 877.3,261.4 878.8,262.1 880.0,264.7 880.9,265.0 881.7,267.9 882.5,270.7 883.1,270.0 883.8,273.3 884.5,275.5 885.2,276.2 885.9,279.2 886.6,281.7 887.3,282.0 888.0,285.6 888.7,288.2 889.4,288.9 890.1,288.7 890.8,293.0 891.5,293.9 892.3,296.0 893.0,298.7 893.7,300.6 894.4,304.8 895.0,303.9 895.6,305.7 896.1,307.8 896.7,307.4 897.2,310.1 897.6,312.2 898.1,315.3 898.6,317.3 899.2,318.7 899.7,320.0 900.3,321.9 901.0,325.8 901.6,328.8 902.4,329.6 903.1,331.8 903.8,332.1 904.6,334.7 905.3,337.1 905.9,338.8 906.5,339.7 907.1,342.6 907.6,342.4 908.1,343.9 908.6,346.6 909.1,350.5 909.6,349.8 910.1,354.1 910.5,353.6 911.0,357.3 911.4,359.0 911.9,361.4 912.4,361.6 912.8,362.5 913.3,366.5 913.8,368.1 914.3,370.3 914.8,373.2 915.3,373.9 915.7,377.0 916.2,380.1 916.7,380.2 917.2,380.7 917.7,383.8 918.2,386.1 918.7,386.7 919.2,388.3 919.7,391.2 920.1,392.9 920.6,395.5 921.1,398.4 921.6,399.5 922.1,401.2 922.6,404.4 923.1,406.1 923.6,407.9 924.1,407.3 924.5,411.0 925.0,413.5 925.5,415.1 925.9,416.1 926.4,419.7 926.8,421.0 927.3,422.6 927.7,423.9 928.2,426.4 928.6,428.4 929.0,431.4 929.5,432.1 929.9,435.8 930.3,435.8 930.8,438.0 931.2,439.1 931.6,443.9 932.1,444.5 932.5,446.6 933.0,448.2 933.4,450.0 933.9,452.6 934.4,454.7 934.9,455.1 935.4,458.8 935.9,459.8 936.4,462.8 936.9,464.3 937.4,467.4 938.0,468.2 938.5,470.4 939.0,471.2 939.5,472.4 940.0,476.2 940.5,478.5 940.9,479.2 941.4,480.7 941.9,483.8 942.3,484.4 942.8,486.3 943.2,487.5 943.7,490.7 944.1,493.8 944.5,494.4 944.9,498.2 945.4,498.5 945.8,501.3 946.2,502.7 946.6,504.5 947.1,506.5 947.5,508.9 947.9,510.6 948.3,513.1 948.7,514.6 949.1,516.4 949.5,517.3 949.9,518.7 950.3,522.4 950.7,524.3 951.1,527.2 951.4,528.0 951.8,531.4 952.1,531.7 952.5,533.8 952.8,536.1 953.1,537.2 953.5,540.9 953.8,542.1 954.1,544.0 954.4,545.3 954.8,548.0 955.1,550.9 955.4,551.9 955.8,553.3 956.1,555.4 956.5,558.0 956.8,560.5 957.2,562.4 957.5,563.4 957.9,565.3 958.3,567.4 958.6,569.5 959.0,572.0 959.4,572.9 959.8,574.9 960.2,577.4 960.5,580.2 960.9,581.1 961.3,583.6 961.7,584.6 962.1,586.8 962.5,589.6 962.9,592.0 963.3,593.1 963.7,594.7 964.1,596.9 964.5,597.8 964.9,601.0 965.3,602.8 965.7,605.8 966.1,606.9 966.5,610.0 966.9,611.9 967.3,613.6 967.7,615.2 968.1,617.9 968.5,618.6 968.9,620.0 969.4,622.7 969.8,624.2 970.2,626.1 970.7,628.4 971.1,631.4 971.5,632.6 972.0,635.1 972.4,637.1 972.9,638.0 973.4,640.0 973.8,642.3 974.3,645.1 974.8,645.8 975.3,647.1 975.8,648.9 976.2,652.0 976.7,654.9 977.2,656.2 977.7,658.3 978.2,659.3 978.7,661.6 979.2,664.4 979.7,666.4 980.2,668.8 980.6,670.5 981.1,671.9 981.6,672.4 982.1,675.5 982.5,676.0 983.0,678.9 983.5,680.2 983.9,682.7 984.4,683.6 984.9,686.9 985.3,689.1 985.8,690.7 986.2,692.9 986.7,694.6 987.2,696.1 987.6,697.2 988.1,699.0 988.6,702.1 989.0,703.9 989.5,705.9 990.0,708.2 990.5,710.5 991.0,711.8 991.5,713.6 992.0,716.1 992.5,718.2 993.0,720.8 993.5,722.0 994.0,723.4 994.5,726.2 995.0,726.9 995.5,729.6 996.0,732.0 996.5,733.7 997.0,734.7 997.5,736.0 998.0,739.5 998.5,740.7 999.0,743.1 999.5,745.6 1000.0,747.8 1000.5,749.8 1001.0,751.0 1001.4,752.8 1001.9,754.3 1002.4,757.3 1002.9,758.5 1003.4,760.3 1003.9,761.5 1004.4,764.9 1004.9,766.4 1005.4,767.8 1005.9,769.7 1006.4,772.2 1007.0,774.3 1007.5,776.9 1008.0,777.6 1008.6,779.0 1009.1,781.1 1009.7,783.8 1010.2,785.1 1010.8,788.0 1011.4,789.8 1011.9,791.2 1012.5,793.1 1013.1,795.5 1013.7,796.6 1014.3,800.1 1014.9,801.8 1015.5,802.5 1016.1,805.3 1016.7,805.9 1017.3,807.9 1018.0,810.9 1018.6,812.5 1019.2,814.3 1019.9,816.1 1020.5,817.4 1021.2,819.2 1021.8,821.7 1022.5,823.5 1023.1,825.3 1023.8,826.3 1024.5,829.0 1025.1,831.5 1025.8,834.3 1026.5,835.7 1027.1,836.8 1027.8,839.3 1028.4,841.5 1029.1,842.9 1029.7,844.3 1030.4,846.5 1031.1,848.3 1031.7,850.5 1032.4,852.2 1033.0,853.1 1033.7,855.3 1034.3,856.8 1035.0,859.6 1035.7,861.6 1036.4,863.7 1037.0,865.6 1037.7,866.5 1038.4,869.2 1039.2,869.8 1039.9,872.4 1040.6,874.5 1041.4,876.2 1042.1,878.0 1042.9,880.8 1043.7,881.6 1044.4,883.8 1045.2,886.0 1046.0,886.3 1046.8,889.3 1047.6,892.0 1048.5,892.5 1049.3,894.6 1050.1,896.6 1050.9,898.0 1051.7,899.7 1052.6,901.7 1053.4,903.8 1054.2,905.3 1055.0,907.5 1055.9,908.9 1056.7,911.2 1057.5,912.9 1058.4,914.7 1059.2,916.7 1060.0,918.4 1060.8,920.2 1061.7,922.3 1062.5,924.0 1063.3,925.6 1064.1,927.0 1065.0,929.1 1065.8,931.1 1066.6,932.6 1067.4,934.2 1068.2,936.5 1069.0,938.4 1069.9,940.0 1070.7,941.5 1071.5,943.4 1072.3,946.0 1073.1,947.2 1074.0,948.7 1074.8,951.3 1075.6,952.2 1076.5,953.9 1077.3,956.9 1078.2,958.4 1079.1,959.9 1079.9,961.9 1080.8,964.0 1081.7,965.6 1082.6,967.3 1083.6,969.1 1084.5,971.0 1085.4,972.4 1086.4,974.4 1087.4,975.6 1088.3,977.6 1089.3,979.7 1090.3,981.3 1091.3,983.1 1092.3,985.2 1093.3,986.9 1094.3,989.0 1095.3,990.1 1096.4,991.8 1097.4,993.0 1098.4,994.6 1099.5,996.6 1100.6,999.5 1101.6,1000.7 1102.7,1001.8 1103.8,1003.7 1104.9,1005.5 1106.0,1007.0 1107.1,1008.6 1108.3,1010.6 1109.4,1012.1 1110.6,1014.2 1111.8,1015.9 1112.9,1016.8 1114.1,1018.7 1115.4,1019.7 1116.6,1021.7 1117.8,1023.5 1119.1,1024.6 1120.3,1026.4 1121.6,1027.4 1122.9,1028.8 1124.2,1031.0 1125.5,1032.0 1126.9,1033.5 1128.2,1035.5 1129.6,1037.1 1130.9,1037.9 1132.3,1039.7 1133.7,1041.7 1135.0,1042.4 1136.4,1043.6 1137.8,1045.5 1139.2,1046.7 1140.7,1048.5 1142.1,1049.4 1143.5,1050.7 1145.0,1052.5 1146.4,1053.7 1147.9,1055.3 1149.4,1056.7 1150.9,1057.9 1152.4,1059.4 1153.9,1060.9 1155.4,1061.9 1156.9,1062.9 1158.5,1064.3 1160.0,1066.0 1161.6,1066.4 1163.2,1068.0 1164.8,1068.9 1166.4,1070.2 1168.0,1071.2 1169.7,1072.6 1171.3,1073.5 1173.0,1074.8 1174.6,1076.1 1176.3,1077.0 1178.0,1078.4 1179.7,1079.1 1181.4,1080.3 1183.1,1081.4 1184.8,1082.3 1186.5,1083.1 1188.2,1084.2 1189.9,1085.5 1191.6,1086.3 1193.4,1087.2 1195.1,1088.5 1196.9,1089.7 1198.6,1090.7 1200.4,1091.8 1202.1,1092.2 1203.9,1093.6 1205.7,1094.3 1207.4,1095.1 1209.2,1096.0 1211.0,1097.1 1212.8,1097.6 1214.6,1098.7 1216.5,1099.9 1218.3,1099.9 1220.1,1100.5 1221.9,1102.1 1223.8,1102.8 1225.6,1103.4 1227.5,1104.1 1229.3,1104.6 1231.2,1105.7 1233.1,1106.6 1234.9,1107.4 1236.8,1108.0 1238.7,1108.7 1240.6,1109.1 1242.5,1109.6 1244.4,1110.4 1246.3,1110.9 1248.2,1111.7 1250.1,1112.6 1252.0,1112.7 1254.0,1113.0 1255.9,1113.9 1257.8,1114.5 1259.8,1115.0 1261.7,1115.0 1263.7,1115.5 1265.6,1116.2 1267.6,1116.7 1269.5,1117.0 1271.5,1117.3 1273.4,1117.6 1275.4,1117.9 1277.4,1118.8 1279.3,1119.2 1281.3,1119.5 1283.3,1119.2 1285.2,1119.5 1287.2,1120.1 1289.2,1120.6 1291.2,1120.9 1293.2,1121.1 1295.1,1121.4 1297.1,1121.6 1299.1,1121.9 1301.1,1122.1 1303.1,1122.4 1305.0,1122.6 1307.0,1122.9 1309.0,1123.1 1311.0,1123.3 1313.0,1123.6 1315.0,1123.8 1317.0,1124.0 1319.0,1124.2 1321.0,1124.4 1322.9,1124.6 1324.9,1124.8 1326.9,1124.9 1328.9,1125.1 1330.9,1125.3 1332.9,1125.4 1334.9,1125.6 1336.9,1125.7 1338.9,1125.9 1340.9,1126.0 1342.9,1126.2 1344.9,1126.3 1346.9,1126.4 1348.9,1126.6 1350.9,1126.7 1352.9,1126.8 1354.9,1127.0 1356.8,1127.1 1358.8,1127.2 1360.8,1127.3 1362.8,1127.4 1364.8,1127.5 1366.8,1127.6 1368.8,1127.8 1370.8,1127.9 1372.8,1128.0 1374.8,1128.1 1376.8,1128.1 1378.8,1128.2 1380.8,1128.3 1382.8,1128.4 1384.8,1128.5 1386.8,1128.6 1388.8,1128.6 1390.8,1128.7 1392.8,1128.8 1394.8,1128.8 1396.8,1128.9 1398.8,1128.9 1400.8,1129.0 1402.8,1129.0 1404.8,1129.1 1406.8,1129.1 1408.8,1129.2 1410.8,1129.2 1412.8,1129.3 1414.8,1129.3 1416.8,1129.4 1418.8,1129.4 1420.8,1129.4 1422.8,1129.5 1424.8,1129.5 1426.8,1129.6 1428.8,1129.6 1430.8,1129.6 1432.8,1129.7 1434.8,1129.7 1436.8,1129.8 1438.8,1129.8 1440.8,1129.8 1442.8,1129.9 1444.8,1129.9 1446.8,1129.9 1448.8,1130.0 1450.8,1130.0 1452.8,1130.1 1454.8,1130.1 1456.8,1130.1 1458.8,1130.2 1460.8,1130.2 1462.8,1130.2 1464.8,1130.3 1466.8,1130.3 1468.8,1130.3 1470.8,1130.3 1472.8,1130.4 1474.8,1130.4 1476.8,1130.4 1478.8,1130.5 1480.8,1130.5 1482.8,1130.5 1484.8,1130.5 1486.8,1130.6 1488.8,1130.6 1490.8,1130.6 1492.8,1130.6 1494.8,1130.7 1496.8,1130.7 1498.8,1130.7 1500.8,1130.7 1502.8,1130.7 1504.8,1130.8 1506.8,1130.8 1508.8,1130.8 1510.8,1130.8 1512.8,1130.8 1514.8,1130.8 1516.8,1130.9 1518.8,1130.9 1520.8,1130.9 1522.8,1130.9 1524.8,1130.9 1526.8,1130.9 1528.8,1130.9 1530.7,1130.9 1532.7,1130.9 1534.7,1131.0 1536.6,1131.0 1538.5,1131.0 1540.3,1131.0 1542.1,1131.0 1543.7,1131.0 1545.3,1131.0 1546.7,1131.0 1548.0,1131.0 1552.8,1131.0 1553.5,1131.0" stroke="#ff0000" stroke-width="8.1"/>
<polyline points="672.8,1136.3 674.8,1136.3 678.4,1136.3 679.9,1136.3 681.5,1136.3 683.2,1136.3 685.0,1136.3 686.9,1136.3 688.9,1136.3 690.8,1136.3 692.8,1136.3 694.8,1136.3 696.8,1136.3 698.8,1136.3 700.8,1136.3 702.8,1136.2 704.8,1136.2 706.8,1136.1 708.8,1136.1 710.8,1136.0 712.8,1135.8 714.8,1135.7 716.8,1135.5 718.8,1135.3 720.8,1135.1 722.8,1134.8 724.7,1134.5 726.7,1134.2 728.6,1133.8 730.5,1133.3 732.4,1132.7 734.2,1132.0 736.0,1131.3 737.7,1130.4 739.4,1129.5 741.1,1128.5 742.7,1127.3 744.4,1126.5 746.0,1125.2 747.6,1124.1 749.2,1122.9 750.8,1121.7 752.4,1120.2 753.9,1119.0 755.4,1118.3 756.9,1116.7 758.3,1115.3 759.7,1114.0 761.0,1112.0 762.3,1110.0 763.5,1108.7 764.7,1107.9 765.9,1106.0 767.1,1104.4 768.2,1102.7 769.3,1101.3 770.4,1099.1 771.5,1097.5 772.5,1095.8 773.6,1094.5 774.6,1092.6 775.6,1090.4 776.6,1088.5 777.6,1086.8 778.6,1085.3 779.7,1083.9 780.7,1082.2 781.7,1080.9 782.8,1079.0 783.8,1076.9 784.9,1075.6 786.0,1073.5 787.1,1071.6 788.2,1070.7 789.4,1069.1 790.5,1066.9 791.6,1065.3 792.8,1063.7 794.0,1061.6 795.1,1061.0 796.3,1058.6 797.5,1057.7 798.6,1055.3 799.8,1053.5 801.0,1052.6 802.1,1050.7 803.3,1049.1 804.5,1047.0 805.7,1046.3 806.9,1044.5 808.2,1042.7 809.4,1041.5 810.7,1039.8 812.0,1038.9 813.3,1037.0 814.7,1034.9 816.1,1034.5 817.5,1032.9 818.9,1031.8 820.4,1030.1 821.9,1028.4 823.4,1027.8 825.0,1027.3 826.6,1024.3 828.2,1023.4 829.8,1022.5 831.5,1020.4 833.2,1020.0 834.8,1019.1 836.5,1017.5 838.2,1016.5 840.0,1015.3 841.7,1015.2 843.4,1013.6 845.2,1012.4 847.0,1012.0 848.8,1011.6 850.6,1011.4 852.4,1010.0 854.3,1008.9 856.2,1008.2 858.1,1008.1 860.0,1007.7 861.9,1006.9 863.9,1005.5 865.8,1004.5 867.8,1006.6 869.8,1005.4 871.8,1006.3 873.8,1005.9 875.7,1006.1 877.7,1006.4 879.7,1005.7 881.7,1006.2 883.7,1006.0 885.7,1006.4 887.6,1007.7 889.6,1007.6 891.6,1007.4 893.5,1007.7 895.4,1008.4 897.4,1008.7 899.3,1010.2 901.2,1010.6 903.1,1010.8 905.0,1011.0 906.8,1013.2 908.6,1013.5 910.5,1013.9 912.3,1014.5 914.1,1016.3 915.8,1016.4 917.6,1017.3 919.3,1018.9 921.0,1019.0 922.7,1020.3 924.4,1021.5 926.1,1022.4 927.8,1023.0 929.4,1024.5 931.1,1025.9 932.7,1027.7 934.4,1027.9 936.0,1029.2 937.7,1030.9 939.3,1031.9 940.9,1032.4 942.5,1033.3 944.1,1035.3 945.8,1037.0 947.4,1038.1 949.0,1039.6 950.6,1039.4 952.2,1041.1 953.8,1042.7 955.5,1042.8 957.1,1044.5 958.7,1045.8 960.4,1046.7 962.1,1048.0 963.7,1049.6 965.4,1050.7 967.1,1050.6 968.7,1051.4 970.4,1053.6 972.1,1054.3 973.8,1055.0 975.5,1057.2 977.1,1058.1 978.8,1058.3 980.5,1059.6 982.2,1060.7 983.9,1062.5 985.5,1063.7 987.2,1064.4 988.9,1065.1 990.6,1065.6 992.3,1067.4 994.0,1068.7 995.7,1068.9 997.5,1070.5 999.2,1071.6 1000.9,1072.6 1002.7,1073.1 1004.4,1074.5 1006.2,1075.7 1007.9,1076.9 1009.7,1077.0 1011.5,1078.9 1013.3,1079.6 1015.0,1079.7 1016.8,1080.7 1018.6,1081.7 1020.4,1082.8 1022.2,1083.2 1024.0,1084.3 1025.8,1085.0 1027.5,1085.7 1029.3,1087.1 1031.1,1087.7 1032.9,1088.6 1034.7,1089.9 1036.6,1090.9 1038.4,1091.4 1040.2,1092.0 1042.1,1093.0 1044.0,1093.5 1045.8,1094.1 1047.7,1095.2 1049.6,1095.3 1051.5,1096.1 1053.4,1096.2 1055.3,1097.7 1057.2,1097.6 1059.1,1098.5 1061.0,1099.2 1062.8,1100.2 1064.7,1100.8 1066.6,1100.8 1068.5,1102.6 1070.3,1103.1 1072.2,1103.8 1074.0,1105.0 1075.9,1104.5 1077.7,1105.6 1079.6,1107.0 1081.4,1107.1 1083.2,1108.4 1085.1,1108.8 1086.9,1110.0 1088.8,1110.2 1090.7,1111.0 1092.5,1112.4 1094.4,1112.1 1096.3,1112.8 1098.2,1113.7 1100.1,1114.0 1102.1,1115.1 1104.0,1116.1 1105.9,1115.6 1107.9,1116.1 1109.8,1116.6 1111.8,1117.3 1113.7,1117.8 1115.7,1117.8 1117.7,1118.3 1119.6,1119.0 1121.6,1119.1 1123.5,1119.4 1125.5,1119.9 1127.4,1120.5 1129.4,1121.1 1131.3,1121.3 1133.3,1121.8 1135.3,1122.2 1137.2,1122.8 1139.2,1123.2 1141.2,1123.5 1143.1,1123.9 1145.1,1124.5 1147.0,1124.5 1149.0,1125.2 1151.0,1125.3 1153.0,1125.8 1154.9,1126.4 1156.9,1126.0 1158.9,1126.3 1160.9,1126.4 1162.9,1126.5 1164.8,1127.6 1166.8,1127.9 1168.8,1128.5 1170.8,1127.8 1172.8,1128.0 1174.8,1128.7 1176.8,1128.9 1178.8,1128.9 1180.7,1129.5 1182.7,1129.6 1184.7,1129.4 1186.7,1129.2 1188.7,1129.9 1190.7,1129.6 1192.7,1129.9 1194.7,1129.6 1196.7,1130.8 1198.7,1130.6 1200.7,1130.7 1202.7,1130.7 1204.7,1131.7 1206.7,1131.9 1208.6,1131.7 1210.6,1131.5 1212.6,1132.2 1214.6,1132.1 1216.6,1132.2 1218.6,1132.4 1220.6,1132.1 1222.6,1132.3 1224.6,1132.6 1226.6,1132.1 1228.6,1132.3 1230.6,1132.9 1232.6,1133.0 1234.6,1133.1 1236.6,1133.1 1238.6,1132.7 1240.6,1133.1 1242.6,1133.3 1244.6,1133.2 1246.6,1133.5 1248.6,1133.4 1250.6,1134.5 1252.6,1133.9 1254.6,1134.1 1256.6,1133.5 1258.6,1133.8 1260.6,1133.1 1262.6,1133.8 1264.6,1133.9 1266.6,1134.2 1268.6,1134.1 1270.6,1133.9 1272.6,1134.4 1274.6,1134.1 1276.6,1134.3 1278.6,1133.9 1280.6,1134.5 1282.6,1135.1 1284.6,1135.0 1286.6,1134.8 1288.6,1135.0 1290.6,1134.9 1292.6,1135.4 1294.6,1135.2 1296.6,1134.4 1298.6,1134.9 1300.6,1135.0 1302.6,1134.4 1304.6,1134.7 1306.6,1134.6 1308.6,1134.4 1310.6,1135.3 1312.6,1135.6 1314.6,1134.4 1316.6,1134.5 1318.6,1134.7 1320.6,1134.7 1322.6,1134.9 1324.6,1134.9 1326.6,1134.8 1328.6,1134.5 1330.6,1135.8 1332.6,1135.8 1334.6,1135.2 1336.6,1135.2 1338.6,1135.0 1340.6,1135.0 1342.6,1134.8 1344.6,1135.7 1346.6,1135.2 1348.6,1135.3 1350.6,1135.1 1352.6,1135.4 1354.6,1135.5 1356.6,1135.1 1358.6,1135.3 1360.6,1134.7 1362.6,1135.4 1364.6,1135.5 1366.6,1135.2 1368.6,1135.1 1370.6,1134.8 1372.6,1134.7 1374.6,1134.9 1376.6,1135.6 1378.6,1135.2 1380.6,1134.7 1382.6,1134.8 1384.6,1134.9 1386.6,1135.2 1388.6,1135.4 1390.6,1135.5 1392.6,1135.7 1394.6,1135.5 1396.6,1134.9 1398.6,1135.2 1400.6,1135.2 1402.6,1135.3 1404.6,1134.7 1406.6,1135.1 1408.6,1135.2 1410.6,1135.3 1412.6,1135.4 1414.6,1136.0 1416.6,1135.0 1418.6,1135.3 1420.6,1135.1 1422.6,1134.9 1424.6,1134.8 1426.6,1134.6 1428.6,1135.3 1430.6,1134.8 1432.6,1135.6 1434.6,1135.3 1436.6,1135.3 1438.6,1134.9 1440.6,1135.7 1442.6,1135.7 1444.6,1135.5 1446.6,1135.6 1448.6,1135.8 1450.6,1135.4 1452.6,1135.7 1454.6,1134.8 1456.6,1135.4 1458.6,1135.8 1460.6,1135.6 1462.6,1135.8 1464.6,1135.9 1466.6,1135.7 1468.6,1135.4 1470.6,1135.6 1472.6,1135.4 1474.6,1135.4 1476.6,1135.3 1478.6,1135.4 1480.6,1135.3 1482.6,1135.5 1484.6,1135.3 1486.6,1135.9 1488.6,1136.3 1490.6,1135.7 1492.6,1135.7 1494.6,1135.4 1496.6,1135.7 1498.6,1135.6 1500.6,1135.6 1502.6,1135.6 1504.6,1135.1 1506.6,1135.5 1508.6,1135.6 1510.6,1135.7 1512.6,1135.2 1514.6,1135.6 1516.6,1135.6 1518.6,1135.3 1520.6,1135.4 1522.6,1135.4 1524.6,1135.9 1526.6,1135.6 1528.6,1135.5 1530.6,1135.4 1532.6,1135.3 1534.6,1135.4 1536.5,1135.5 1538.5,1135.8 1540.4,1136.0 1542.3,1136.1 1544.0,1135.6 1545.7,1136.2 1547.3,1135.1 1548.6,1135.6 1552.6,1135.7 1553.5,1135.5" stroke="#ff00ff" stroke-width="8.1"/>
<polyline points="672.8,1129.6 674.8,1129.6 678.4,1129.6 679.8,1129.6 681.5,1129.6 683.2,1129.6 685.0,1129.6 686.9,1129.6 688.9,1129.6 690.8,1129.6 692.8,1129.6 694.8,1129.5 696.8,1129.5 698.8,1129.5 700.8,1129.5 702.8,1129.5 704.8,1129.5 706.8,1129.5 708.8,1129.5 710.8,1129.4 712.8,1129.4 714.8,1129.4 716.8,1129.3 718.8,1129.3 720.8,1129.3 722.8,1129.2 724.8,1129.2 726.8,1129.1 728.8,1129.1 730.8,1129.0 732.8,1128.9 734.8,1128.8 736.8,1128.8 738.8,1128.7 740.8,1128.6 742.8,1128.6 744.8,1128.5 746.8,1128.4 748.8,1128.7 750.7,1127.3 752.7,1128.2 754.7,1127.9 756.7,1127.8 758.6,1126.6 760.6,1126.1 762.5,1125.2 764.4,1124.7 766.3,1124.2 768.2,1124.3 770.1,1123.0 771.9,1122.6 773.8,1121.4 775.6,1121.0 777.4,1120.1 779.2,1119.5 781.0,1117.8 782.7,1117.5 784.5,1116.3 786.2,1115.2 788.0,1115.5 789.8,1113.8 791.5,1112.6 793.3,1112.2 795.1,1111.2 796.9,1110.1 798.7,1109.2 800.5,1107.8 802.3,1107.7 804.2,1107.1 806.0,1106.6 807.9,1105.1 809.8,1104.5 811.6,1103.0 813.5,1102.4 815.4,1101.6 817.2,1102.0 819.1,1101.8 821.0,1100.7 822.9,1099.7 824.8,1098.7 826.7,1099.6 828.6,1098.1 830.5,1097.5 832.4,1096.5 834.3,1096.7 836.2,1096.3 838.1,1095.0 840.0,1092.9 841.9,1093.3 843.9,1092.9 845.8,1092.6 847.7,1092.4 849.6,1091.1 851.6,1090.8 853.5,1090.4 855.4,1091.2 857.4,1091.2 859.3,1089.1 861.3,1088.5 863.2,1088.7 865.2,1089.0 867.2,1088.0 869.2,1086.4 871.1,1086.3 873.1,1087.1 875.1,1086.4 877.1,1087.3 879.1,1086.5 881.1,1086.6 883.1,1084.9 885.1,1084.0 887.1,1086.0 889.1,1085.9 891.1,1085.6 893.0,1085.1 895.0,1085.6 897.0,1084.5 899.0,1085.2 901.0,1084.2 903.0,1086.0 905.0,1085.8 907.0,1085.4 909.0,1085.6 911.0,1084.8 913.0,1085.6 915.0,1084.5 917.0,1085.1 919.0,1085.5 921.0,1085.1 923.0,1085.1 925.0,1086.2 927.0,1085.7 929.0,1085.4 931.0,1086.2 933.0,1086.3 934.9,1086.5 936.9,1086.8 938.9,1087.4 940.9,1088.3 942.8,1088.1 944.8,1088.7 946.8,1088.0 948.7,1089.8 950.7,1090.1 952.7,1090.1 954.6,1090.9 956.6,1090.2 958.6,1091.3 960.5,1091.6 962.5,1091.6 964.4,1092.1 966.4,1091.7 968.4,1092.6 970.3,1092.7 972.3,1093.0 974.2,1093.4 976.2,1094.2 978.2,1094.4 980.1,1094.5 982.1,1094.5 984.1,1095.8 986.0,1097.7 988.0,1096.7 989.9,1096.7 991.9,1097.8 993.9,1098.0 995.8,1098.0 997.8,1098.9 999.8,1100.2 1001.7,1100.0 1003.7,1099.1 1005.7,1100.1 1007.6,1101.3 1009.6,1101.2 1011.6,1102.4 1013.5,1102.0 1015.5,1102.3 1017.5,1102.8 1019.4,1102.7 1021.4,1102.6 1023.3,1103.4 1025.3,1104.3 1027.3,1104.4 1029.2,1105.0 1031.2,1104.3 1033.2,1104.8 1035.2,1105.8 1037.1,1106.6 1039.1,1106.6 1041.1,1107.8 1043.1,1107.6 1045.0,1108.0 1047.0,1108.2 1049.0,1108.0 1051.0,1108.4 1053.0,1108.3 1054.9,1108.1 1056.9,1108.9 1058.9,1109.8 1060.9,1109.9 1062.8,1109.3 1064.8,1110.2 1066.8,1109.4 1068.8,1111.0 1070.8,1111.7 1072.7,1112.5 1074.7,1111.6 1076.7,1111.0 1078.7,1113.0 1080.7,1112.7 1082.6,1113.0 1084.6,1113.4 1086.6,1113.3 1088.6,1114.1 1090.6,1113.9 1092.5,1114.6 1094.5,1114.7 1096.5,1115.3 1098.5,1115.8 1100.5,1115.3 1102.5,1115.0 1104.4,1115.5 1106.4,1116.1 1108.4,1117.2 1110.4,1116.3 1112.4,1117.0 1114.4,1117.5 1116.4,1117.0 1118.3,1117.0 1120.3,1117.8 1122.3,1118.4 1124.3,1117.8 1126.3,1118.7 1128.3,1117.9 1130.3,1118.1 1132.3,1119.3 1134.3,1119.0 1136.3,1119.1 1138.3,1119.5 1140.3,1119.6 1142.3,1119.9 1144.2,1119.9 1146.2,1119.5 1148.2,1119.7 1150.2,1120.4 1152.2,1120.2 1154.2,1120.2 1156.2,1120.6 1158.2,1120.4 1160.2,1120.6 1162.2,1120.6 1164.2,1121.4 1166.2,1120.9 1168.2,1121.3 1170.2,1121.9 1172.2,1122.1 1174.2,1122.3 1176.1,1122.1 1178.1,1123.0 1180.1,1122.5 1182.1,1122.3 1184.1,1122.6 1186.1,1122.6 1188.1,1123.2 1190.1,1124.0 1192.1,1123.4 1194.1,1123.6 1196.1,1124.5 1198.1,1123.4 1200.1,1123.6 1202.1,1123.2 1204.1,1124.6 1206.1,1124.6 1208.1,1125.2 1210.1,1123.1 1212.1,1124.5 1214.1,1124.1 1216.1,1124.4 1218.1,1124.6 1220.1,1124.5 1222.1,1124.6 1224.1,1124.7 1226.1,1124.3 1228.1,1124.1 1230.1,1125.1 1232.1,1125.2 1234.1,1124.9 1236.1,1125.6 1238.1,1125.7 1240.1,1125.1 1242.1,1124.5 1244.0,1125.6 1246.0,1125.2 1248.0,1125.7 1250.0,1125.8 1252.0,1126.0 1254.0,1125.9 1256.0,1125.2 1258.0,1124.9 1260.0,1125.4 1262.0,1125.7 1264.0,1125.8 1266.0,1125.7 1268.0,1126.0 1270.0,1127.3 1272.0,1126.5 1274.0,1126.3 1276.0,1127.0 1278.0,1126.2 1280.0,1126.9 1282.0,1127.3 1284.0,1127.3 1286.0,1126.5 1288.0,1126.3 1290.0,1126.9 1292.0,1126.9 1294.0,1127.5 1296.0,1126.4 1298.0,1126.4 1300.0,1127.6 1302.0,1127.4 1304.0,1127.3 1306.0,1127.7 1308.0,1128.1 1310.0,1127.4 1312.0,1127.5 1314.0,1127.2 1316.0,1128.0 1318.0,1127.1 1320.0,1126.9 1322.0,1127.5 1324.0,1127.3 1326.0,1127.0 1328.0,1126.7 1330.0,1127.3 1332.0,1128.2 1334.0,1127.6 1336.0,1129.0 1338.0,1127.7 1340.0,1127.7 1342.0,1127.8 1344.0,1128.4 1346.0,1128.4 1348.0,1127.6 1350.0,1128.1 1352.0,1128.6 1354.0,1129.1 1356.0,1127.6 1358.0,1127.4 1360.0,1127.6 1362.0,1128.2 1364.0,1127.9 1366.0,1127.8 1368.0,1128.1 1370.0,1128.9 1372.0,1127.1 1374.0,1128.5 1376.0,1129.2 1378.0,1127.8 1380.0,1127.5 1382.0,1128.4 1384.0,1127.9 1386.0,1128.4 1388.0,1127.5 1390.0,1127.7 1392.0,1127.9 1394.0,1128.6 1396.0,1128.1 1398.0,1128.0 1400.0,1128.3 1402.0,1127.6 1404.0,1128.6 1406.0,1127.4 1408.0,1128.5 1410.0,1128.4 1412.0,1128.3 1414.0,1128.5 1416.0,1127.7 1418.0,1128.5 1420.0,1128.9 1422.0,1129.0 1424.0,1129.6 1426.0,1128.8 1428.0,1129.2 1430.0,1128.9 1432.0,1128.5 1434.0,1129.4 1436.0,1129.5 1438.0,1128.3 1440.0,1128.1 1442.0,1128.6 1444.0,1128.7 1446.0,1127.7 1448.0,1127.8 1450.0,1128.5 1452.0,1129.1 1454.0,1128.7 1456.0,1128.1 1458.0,1127.2 1460.0,1128.0 1462.0,1128.3 1464.0,1127.9 1466.0,1128.5 1468.0,1128.1 1470.0,1129.1 1472.0,1129.6 1474.0,1128.9 1476.0,1128.2 1478.0,1128.8 1480.0,1128.4 1482.0,1128.2 1484.0,1128.1 1486.0,1127.5 1488.0,1128.7 1490.0,1128.5 1492.0,1129.5 1494.0,1128.7 1496.0,1128.7 1498.0,1128.8 1500.0,1128.5 1502.0,1129.0 1504.0,1128.4 1506.0,1129.5 1508.0,1128.9 1510.0,1128.6 1512.0,1129.1 1514.0,1128.2 1516.0,1128.6 1518.0,1128.3 1520.0,1128.5 1522.0,1128.8 1524.0,1129.2 1526.0,1128.3 1528.0,1128.0 1530.0,1128.7 1532.0,1128.7 1534.0,1128.0 1536.0,1128.4 1537.9,1127.8 1539.9,1128.8 1541.7,1128.1 1543.6,1128.4 1545.3,1128.4 1546.8,1128.9 1548.3,1129.5 1552.0,1129.1 1553.5,1129.4" stroke="#00d289" stroke-width="8.1"/>
</g>
<g stroke="#000" stroke-width="3.7" fill="none">
<line x1="167.39999999999998" y1="1224.45" x2="1557.2" y2="1224.45" stroke-width="4.7"/>
<line x1="167.39999999999998" y1="38.0" x2="1557.2" y2="38.0" stroke-width="3.8"/>
<line x1="1555.3" y1="36.1" x2="1555.3" y2="1226.8"/>
<line x1="196.65" y1="1224.45" x2="196.65" y2="1208.05"/>
<line x1="332.48" y1="1224.45" x2="332.48" y2="1216.95"/>
<line x1="468.30" y1="1224.45" x2="468.30" y2="1208.05"/>
<line x1="604.12" y1="1224.45" x2="604.12" y2="1216.95"/>
<line x1="739.95" y1="1224.45" x2="739.95" y2="1208.05"/>
<line x1="875.77" y1="1224.45" x2="875.77" y2="1216.95"/>
<line x1="1011.60" y1="1224.45" x2="1011.60" y2="1208.05"/>
<line x1="1147.42" y1="1224.45" x2="1147.42" y2="1216.95"/>
<line x1="1283.25" y1="1224.45" x2="1283.25" y2="1208.05"/>
<line x1="1419.08" y1="1224.45" x2="1419.08" y2="1216.95"/>
<line x1="1554.90" y1="1224.45" x2="1554.90" y2="1208.05"/>
<line x1="1555.3" y1="1138.20" x2="1541.10" y2="1138.20" stroke-width="4.1"/>
<line x1="1555.3" y1="1000.55" x2="1548.50" y2="1000.55" stroke-width="3.7"/>
<line x1="1555.3" y1="862.90" x2="1541.10" y2="862.90" stroke-width="4.1"/>
<line x1="1555.3" y1="725.25" x2="1548.50" y2="725.25" stroke-width="3.7"/>
<line x1="1555.3" y1="587.60" x2="1541.10" y2="587.60" stroke-width="4.1"/>
<line x1="1555.3" y1="449.95" x2="1548.50" y2="449.95" stroke-width="3.7"/>
<line x1="1555.3" y1="312.30" x2="1541.10" y2="312.30" stroke-width="4.1"/>
<line x1="1555.3" y1="174.65" x2="1548.50" y2="174.65" stroke-width="3.7"/>
</g>
<g stroke="#767676" stroke-width="3.6" fill="none">
<line x1="169.2" y1="39.9" x2="169.2" y2="1226.8"/>
<line x1="167.39999999999998" y1="1224.45" x2="184.00" y2="1224.45" stroke-width="4.7"/>
<line x1="167.39999999999998" y1="1025.98" x2="184.00" y2="1025.98" stroke-width="3.7"/>
<line x1="167.39999999999998" y1="828.31" x2="184.00" y2="828.31" stroke-width="3.7"/>
<line x1="167.39999999999998" y1="630.64" x2="184.00" y2="630.64" stroke-width="3.7"/>
<line x1="167.39999999999998" y1="432.97" x2="184.00" y2="432.97" stroke-width="3.7"/>
<line x1="167.39999999999998" y1="235.30" x2="184.00" y2="235.30" stroke-width="3.7"/>
</g>
<text transform="translate(153.00,1239.55) scale(1,1.118)" font-size="46.8" text-anchor="end" fill="#767676">−1</text>
<text transform="translate(153.00,1041.88) scale(1,1.118)" font-size="46.8" text-anchor="end" fill="#767676">0</text>
<text transform="translate(153.00,844.21) scale(1,1.118)" font-size="46.8" text-anchor="end" fill="#767676">1</text>
<text transform="translate(153.00,646.54) scale(1,1.118)" font-size="46.8" text-anchor="end" fill="#767676">2</text>
<text transform="translate(153.00,448.87) scale(1,1.118)" font-size="46.8" text-anchor="end" fill="#767676">3</text>
<text transform="translate(153.00,251.20) scale(1,1.118)" font-size="46.8" text-anchor="end" fill="#767676">4</text>
<text transform="translate(153.00,53.53) scale(1,1.118)" font-size="46.8" text-anchor="end" fill="#767676">5</text>
<text transform="translate(196.35,1281.90) scale(1,1.118)" font-size="46.8" text-anchor="middle" fill="#000">200</text>
<text transform="translate(468.00,1281.90) scale(1,1.118)" font-size="46.8" text-anchor="middle" fill="#000">300</text>
<text transform="translate(739.65,1281.90) scale(1,1.118)" font-size="46.8" text-anchor="middle" fill="#000">400</text>
<text transform="translate(1011.30,1281.90) scale(1,1.118)" font-size="46.8" text-anchor="middle" fill="#000">500</text>
<text transform="translate(1282.95,1281.90) scale(1,1.118)" font-size="46.8" text-anchor="middle" fill="#000">600</text>
<text transform="translate(1554.60,1281.90) scale(1,1.118)" font-size="46.8" text-anchor="middle" fill="#000">700</text>
<text transform="translate(1571.60,1152.70) scale(1,1.14)" font-size="46.9" text-anchor="start" fill="#000">0.0</text>
<text transform="translate(1571.60,882.80) scale(1,1.14)" font-size="46.9" text-anchor="start" fill="#000">8.0×10<tspan font-size="33" dx="0" dy="-17.6">5</tspan></text>
<text transform="translate(1571.60,607.50) scale(1,1.14)" font-size="46.9" text-anchor="start" fill="#000">1.6×10<tspan font-size="33" dx="0" dy="-17.6">6</tspan></text>
<text transform="translate(1571.60,332.20) scale(1,1.14)" font-size="46.9" text-anchor="start" fill="#000">2.4×10<tspan font-size="33" dx="0" dy="-17.6">6</tspan></text>
<text transform="translate(1571.60,56.90) scale(1,1.14)" font-size="46.9" text-anchor="start" fill="#000">3.2×10<tspan font-size="33" dx="0" dy="-17.6">6</tspan></text>
<text transform="translate(843.30,1385.20) scale(1,1.1)" font-size="50.4" text-anchor="middle" fill="#000">Wavelength (nm)</text>
<text transform="translate(51.6,612.3) scale(1,1.085) rotate(-90)" font-size="50" text-anchor="middle">Absorbance (a.u.)</text>
<text transform="translate(1808.3,632.6) scale(1,1.085) rotate(-90)" font-size="50" text-anchor="middle">PL Intensity (a.u.)</text>
<line x1="1080" y1="143.7" x2="1169.5" y2="143.7" stroke="#767676" stroke-width="3.9"/>
<text transform="translate(1180.00,158.20) scale(1,1.07)" font-size="39.5" text-anchor="start" fill="#000">Abs (10.0 mg/mL)</text>
<line x1="1080" y1="197.3" x2="1169.5" y2="197.3" stroke="#0000ff" stroke-width="3.9"/>
<text transform="translate(1180.00,211.80) scale(1,1.07)" font-size="39.5" text-anchor="start" fill="#000">PLE (0.1 mg/mL)</text>
<line x1="1080" y1="250.9" x2="1169.5" y2="250.9" stroke="#f03c3c" stroke-width="3.9"/>
<text transform="translate(1180.00,265.40) scale(1,1.07)" font-size="39.5" text-anchor="start" fill="#000">PLE (0.2 mg/mL)</text>
<line x1="1080" y1="304.5" x2="1169.5" y2="304.5" stroke="#ff00ff" stroke-width="3.9"/>
<text transform="translate(1180.00,319.00) scale(1,1.07)" font-size="39.5" text-anchor="start" fill="#000">PLE (1.0 mg/mL)</text>
<line x1="1080" y1="358.1" x2="1169.5" y2="358.1" stroke="#00d289" stroke-width="3.9"/>
<text transform="translate(1180.00,372.60) scale(1,1.07)" font-size="39.5" text-anchor="start" fill="#000">PLE (2.0 mg/mL)</text>
<line x1="1080" y1="411.7" x2="1169.5" y2="411.7" stroke="#0000ff" stroke-width="8.2"/>
<text transform="translate(1180.00,426.20) scale(1,1.07)" font-size="39.5" text-anchor="start" fill="#000">PL (0.1 mg/mL)</text>
<line x1="1080" y1="465.3" x2="1169.5" y2="465.3" stroke="#ff0000" stroke-width="8.2"/>
<text transform="translate(1180.00,479.80) scale(1,1.07)" font-size="39.5" text-anchor="start" fill="#000">PL (0.2 mg/mL)</text>
<line x1="1080" y1="518.9" x2="1169.5" y2="518.9" stroke="#ff00ff" stroke-width="8.2"/>
<text transform="translate(1180.00,533.40) scale(1,1.07)" font-size="39.5" text-anchor="start" fill="#000">PL (1.0 mg/mL)</text>
<line x1="1080" y1="572.5" x2="1169.5" y2="572.5" stroke="#00d289" stroke-width="8.2"/>
<text transform="translate(1180.00,587.00) scale(1,1.07)" font-size="39.5" text-anchor="start" fill="#000">PL (2.0 mg/mL)</text>
</svg></body></html>
